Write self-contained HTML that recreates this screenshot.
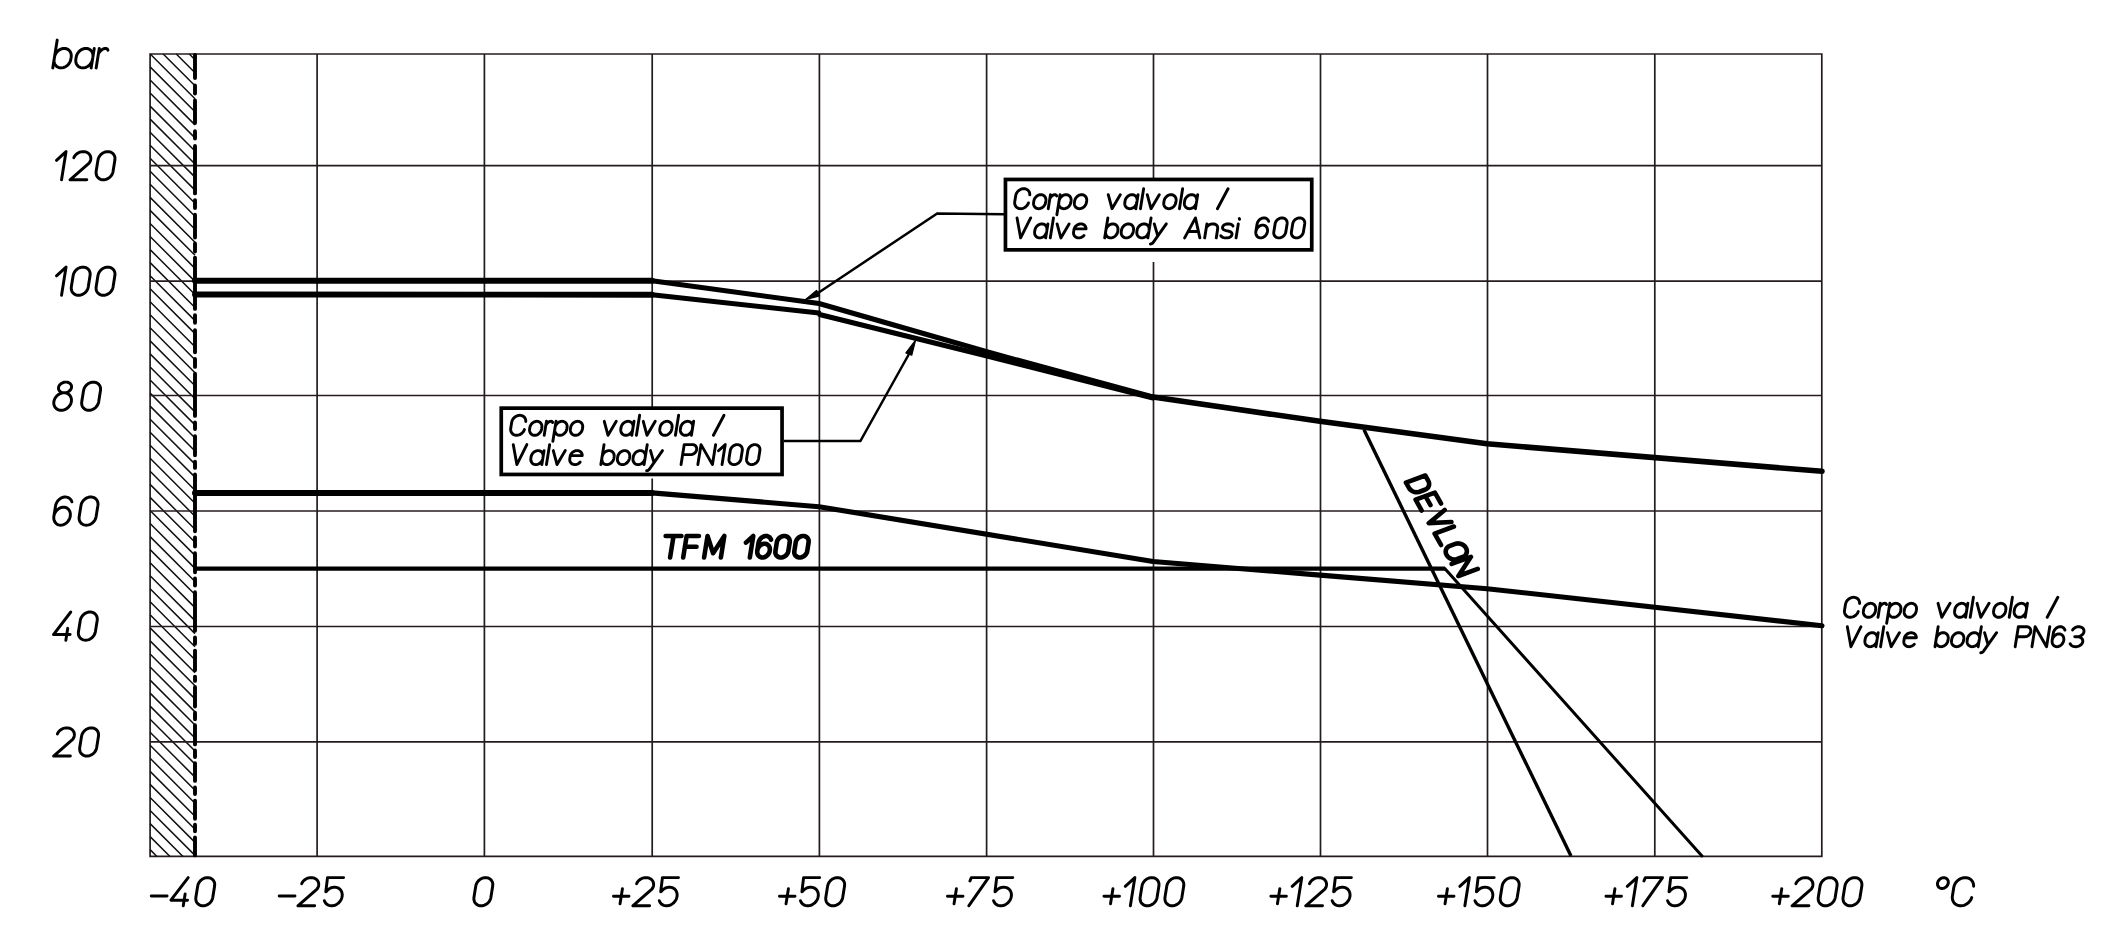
<!DOCTYPE html>
<html><head><meta charset="utf-8"><style>
html,body{margin:0;padding:0;background:#fff;overflow:hidden;}
svg{display:block;}
</style></head><body>
<svg width="2126" height="952" viewBox="0 0 2126 952">
<rect width="2126" height="952" fill="#fff"/>
<path d="M150.1 54.0H1821.8V856.45H150.1Z" fill="none" stroke="#241c1c" stroke-width="1.7"/>
<path d="M189.3 54.0L195.0 59.7M176.3 54.0L195.0 72.7M163.2 54.0L195.0 85.8M150.2 54.0L195.0 98.8M150.1 66.9L195.0 111.8M150.1 80.0L195.0 124.9M150.1 93.0L195.0 137.9M150.1 106.1L195.0 151.0M150.1 119.1L195.0 164.0M150.1 132.2L195.0 177.1M150.1 145.2L195.0 190.1M150.1 158.3L195.0 203.2M150.1 171.3L195.0 216.2M150.1 184.3L195.0 229.2M150.1 197.4L195.0 242.3M150.1 210.4L195.0 255.3M150.1 223.5L195.0 268.4M150.1 236.5L195.0 281.4M150.1 249.6L195.0 294.5M150.1 262.6L195.0 307.5M150.1 275.7L195.0 320.6M150.1 288.7L195.0 333.6M150.1 301.8L195.0 346.7M150.1 314.8L195.0 359.7M150.1 327.8L195.0 372.7M150.1 340.9L195.0 385.8M150.1 353.9L195.0 398.8M150.1 367.0L195.0 411.9M150.1 380.0L195.0 424.9M150.1 393.1L195.0 438.0M150.1 406.1L195.0 451.0M150.1 419.2L195.0 464.1M150.1 432.2L195.0 477.1M150.1 445.2L195.0 490.2M150.1 458.3L195.0 503.2M150.1 471.3L195.0 516.2M150.1 484.4L195.0 529.3M150.1 497.4L195.0 542.3M150.1 510.5L195.0 555.4M150.1 523.5L195.0 568.4M150.1 536.6L195.0 581.5M150.1 549.6L195.0 594.5M150.1 562.7L195.0 607.6M150.1 575.7L195.0 620.6M150.1 588.7L195.0 633.6M150.1 601.8L195.0 646.7M150.1 614.8L195.0 659.7M150.1 627.9L195.0 672.8M150.1 640.9L195.0 685.8M150.1 654.0L195.0 698.9M150.1 667.0L195.0 711.9M150.1 680.1L195.0 725.0M150.1 693.1L195.0 738.0M150.1 706.1L195.0 751.0M150.1 719.2L195.0 764.1M150.1 732.2L195.0 777.1M150.1 745.3L195.0 790.2M150.1 758.3L195.0 803.2M150.1 771.4L195.0 816.3M150.1 784.4L195.0 829.3M150.1 797.5L195.0 842.4M150.1 810.5L195.0 855.4M150.1 823.6L183.0 856.5M150.1 836.6L170.0 856.5M150.1 849.6L156.9 856.5" stroke="#111" stroke-width="1.5" fill="none"/>
<path d="M317.1 54.0V856.45" stroke="#241c1c" stroke-width="1.7"/>
<path d="M484.4 54.0V856.45" stroke="#241c1c" stroke-width="1.7"/>
<path d="M652.2 54.0V407M652.2 478.5V856.45" stroke="#241c1c" stroke-width="1.7"/>
<path d="M819.4 54.0V856.45" stroke="#241c1c" stroke-width="1.7"/>
<path d="M986.6 54.0V856.45" stroke="#241c1c" stroke-width="1.7"/>
<path d="M1153.5 54.0V178M1153.5 262V856.45" stroke="#241c1c" stroke-width="1.7"/>
<path d="M1320.5 54.0V856.45" stroke="#241c1c" stroke-width="1.7"/>
<path d="M1487.5 54.0V856.45" stroke="#241c1c" stroke-width="1.7"/>
<path d="M1654.8 54.0V856.45" stroke="#241c1c" stroke-width="1.7"/>
<path d="M150.1 165.6H1821.8" stroke="#241c1c" stroke-width="1.7"/>
<path d="M150.1 281.1H1821.8" stroke="#241c1c" stroke-width="1.7"/>
<path d="M150.1 395.5H1821.8" stroke="#241c1c" stroke-width="1.7"/>
<path d="M150.1 511.0H1821.8" stroke="#241c1c" stroke-width="1.7"/>
<path d="M150.1 626.5H1821.8" stroke="#241c1c" stroke-width="1.7"/>
<path d="M150.1 741.85H1821.8" stroke="#241c1c" stroke-width="1.7"/>
<path d="M195.0 54.9V78.1M195.0 85.5V93.6M195.0 100.5V123.0M195.0 131.3V138.5M195.0 145.9V193.4M195.0 200.1V208.1M195.0 214.8V237.5M195.0 243.5V251.5M195.0 257.6V308.9M195.0 315.1V322.8M195.0 330.3V352.2M195.0 358.9V366.9M195.0 373.8V415.9M195.0 422.4V429.1M195.0 436.1V455.2M195.0 461.8V467.9M195.0 474.4V531.3M195.0 537.4V546.6M195.0 553.2V572.3M195.0 578.4V585.5M195.0 592.2V630.8M195.0 637.4V643.9M195.0 650.6V670.2M195.0 676.6V680.9M195.0 687.0V706.6M195.0 712.7V719.2M195.0 725.2V744.4M195.0 750.5V757.0M195.0 763.1V780.9M195.0 787.5V794.0M195.0 800.6V818.8M195.0 824.8V831.3M195.0 837.4V855.4" stroke="#000" stroke-width="3.9" stroke-linecap="round"/>
<path d="M195 280.7L652 280.7" fill="none" stroke="#000" stroke-width="5.9" stroke-linejoin="round" stroke-linecap="round"/>
<path d="M652 280.7L819 303.5L986 351.5L1153 397" fill="none" stroke="#000" stroke-width="5.0" stroke-linejoin="round" stroke-linecap="round"/>
<path d="M1153 397L1320 421.3L1487 443.8L1822 471.3" fill="none" stroke="#000" stroke-width="5.6" stroke-linejoin="round" stroke-linecap="round"/>
<path d="M195 294.5L652 294.7" fill="none" stroke="#000" stroke-width="5.9" stroke-linejoin="round" stroke-linecap="round"/>
<path d="M652 294.7L819 313L819.5 314.5L986 355.7L1153 398" fill="none" stroke="#000" stroke-width="5.0" stroke-linejoin="round" stroke-linecap="round"/>
<path d="M195 493.1L652 492.9" fill="none" stroke="#000" stroke-width="6.0" stroke-linejoin="round" stroke-linecap="round"/>
<path d="M652 492.9L819 506.7L1153 561.5L1320 575.1L1487 588.7L1822 625.8" fill="none" stroke="#000" stroke-width="5.1" stroke-linejoin="round" stroke-linecap="round"/>
<path d="M195 568.7H1445" fill="none" stroke="#000" stroke-width="4.2"/>
<path d="M1445 568.7L1702 856" fill="none" stroke="#000" stroke-width="3.0" stroke-linecap="round"/>
<path d="M1364 429.7L1571 856" fill="none" stroke="#000" stroke-width="3.4"/>
<path d="M1004 214.3L937.2 213.4L818 293" fill="none" stroke="#000" stroke-width="2.5"/>
<path d="M805.4 299.6L816.5 290.4L819.6 295.8Z" fill="#000" stroke="#000" stroke-width="1.2" stroke-linejoin="round"/>
<path d="M784 441H860.4L909 354" fill="none" stroke="#000" stroke-width="2.5"/>
<path d="M915.6 340.1L905.9 352.9L911.8 355.2Z" fill="#000" stroke="#000" stroke-width="1.2" stroke-linejoin="round"/>
<rect x="501.25" y="408.15" width="280.8" height="66.3" fill="#fff" stroke="#000" stroke-width="3.7"/>
<rect x="1005.45" y="179.45" width="306.3" height="70.4" fill="#fff" stroke="#000" stroke-width="3.7"/>
<g fill="none" stroke="#000" stroke-linecap="round" stroke-linejoin="round">
<path d="M151.28 895.93L167.07 895.93M188.19 877.60L170.90 900.16L187.54 900.16M185.15 893.96L183.25 905.80M197.69 886.06L197.94 884.96L198.33 883.87L198.85 882.82L199.50 881.83L200.26 880.91L201.13 880.08L202.08 879.35L203.09 878.73L204.17 878.24L205.27 877.89L206.39 877.67L207.51 877.60L208.60 877.67L209.65 877.89L210.64 878.24L211.55 878.73L212.38 879.35L213.09 880.08L213.69 880.91L214.16 881.83L214.49 882.82L214.67 883.87L214.72 884.96L214.61 886.06L212.81 897.34L212.56 898.44L212.17 899.53L211.65 900.58L211.00 901.57L210.24 902.49L209.37 903.32L208.42 904.05L207.41 904.67L206.33 905.16L205.23 905.51L204.11 905.73L202.99 905.80L201.90 905.73L200.85 905.51L199.86 905.16L198.95 904.67L198.12 904.05L197.41 903.32L196.81 902.49L196.34 901.57L196.01 900.58L195.83 899.53L195.78 898.44L195.89 897.34L197.69 886.06" stroke-width="2.95"/>
<path d="M279.18 895.93L294.97 895.93M301.71 883.59L302.23 882.58L302.88 881.63L303.66 880.75L304.55 879.96L305.53 879.26L306.59 878.67L307.71 878.20L308.87 877.86L310.04 877.66L311.21 877.60L312.36 877.68L313.47 877.89L314.51 878.25L315.47 878.72L316.33 879.33L317.08 880.03L317.70 880.84L318.18 881.73L318.51 882.69L318.69 883.69L318.71 884.73L318.58 885.78L318.29 886.83L317.86 887.85L317.28 888.83L297.90 905.80L314.68 905.80M343.58 877.60L327.51 877.60L325.82 891.70L326.33 891.43L327.19 890.45L328.16 889.58L329.20 888.82L330.32 888.20L331.48 887.72L332.67 887.39L333.86 887.22L335.05 887.20L336.20 887.34L337.29 887.64L338.32 888.09L339.25 888.69L340.08 889.42L340.79 890.27L341.37 891.22L341.80 892.27L342.09 893.39L342.22 894.56L342.20 895.76L342.02 896.98L341.69 898.19L341.21 899.37L340.59 900.50L339.84 901.56L338.98 902.54L338.02 903.41L336.97 904.16L335.86 904.79L334.70 905.27L333.51 905.60L332.31 905.77L331.13 905.79L329.98 905.64L328.88 905.34L327.86 904.89L326.92 904.30L326.09 903.57L325.39 902.72L324.81 901.76L324.37 900.72" stroke-width="2.95"/>
<path d="M475.78 886.06L476.03 884.96L476.42 883.87L476.95 882.82L477.59 881.83L478.36 880.91L479.22 880.08L480.17 879.35L481.19 878.73L482.26 878.24L483.36 877.89L484.48 877.67L485.60 877.60L486.69 877.67L487.74 877.89L488.73 878.24L489.65 878.73L490.47 879.35L491.18 880.08L491.78 880.91L492.25 881.83L492.58 882.82L492.77 883.87L492.81 884.96L492.70 886.06L490.90 897.34L490.65 898.44L490.26 899.53L489.74 900.58L489.09 901.57L488.33 902.49L487.46 903.32L486.52 904.05L485.50 904.67L484.43 905.16L483.32 905.51L482.20 905.73L481.09 905.80L479.99 905.73L478.94 905.51L477.95 905.16L477.04 904.67L476.22 904.05L475.50 903.32L474.90 902.49L474.44 901.57L474.11 900.58L473.92 899.53L473.87 898.44L473.98 897.34L475.78 886.06" stroke-width="2.95"/>
<path d="M613.48 896.21L628.99 896.21M622.43 888.74L620.03 903.68M636.62 883.59L637.14 882.58L637.79 881.63L638.57 880.75L639.46 879.96L640.44 879.26L641.50 878.67L642.62 878.20L643.78 877.86L644.95 877.66L646.12 877.60L647.27 877.68L648.38 877.89L649.42 878.25L650.38 878.72L651.24 879.33L651.99 880.03L652.61 880.84L653.09 881.73L653.42 882.69L653.60 883.69L653.62 884.73L653.49 885.78L653.20 886.83L652.77 887.85L652.19 888.83L632.81 905.80L649.59 905.80M678.49 877.60L662.42 877.60L660.73 891.70L661.24 891.43L662.10 890.45L663.07 889.58L664.11 888.82L665.23 888.20L666.39 887.72L667.58 887.39L668.77 887.22L669.96 887.20L671.11 887.34L672.20 887.64L673.23 888.09L674.16 888.69L674.99 889.42L675.70 890.27L676.28 891.22L676.71 892.27L677.00 893.39L677.13 894.56L677.11 895.76L676.93 896.98L676.60 898.19L676.12 899.37L675.50 900.50L674.75 901.56L673.89 902.54L672.93 903.41L671.88 904.16L670.77 904.79L669.61 905.27L668.42 905.60L667.22 905.77L666.04 905.79L664.89 905.64L663.79 905.34L662.77 904.89L661.83 904.30L661.00 903.57L660.29 902.72L659.72 901.76L659.28 900.72" stroke-width="2.95"/>
<path d="M779.48 896.21L794.99 896.21M788.43 888.74L786.03 903.68M819.68 877.60L803.60 877.60L801.91 891.70L802.42 891.43L803.29 890.45L804.25 889.58L805.30 888.82L806.41 888.20L807.57 887.72L808.76 887.39L809.96 887.22L811.14 887.20L812.29 887.34L813.39 887.64L814.41 888.09L815.34 888.69L816.17 889.42L816.88 890.27L817.46 891.22L817.90 892.27L818.18 893.39L818.32 894.56L818.29 895.76L818.11 896.98L817.78 898.19L817.30 899.37L816.68 900.50L815.94 901.56L815.08 902.54L814.11 903.41L813.07 904.16L811.95 904.79L810.79 905.27L809.60 905.60L808.40 905.77L807.22 905.79L806.07 905.64L804.98 905.34L803.95 904.89L803.02 904.30L802.19 903.57L801.48 902.72L800.90 901.76L800.46 900.72M827.63 886.06L827.88 884.96L828.27 883.87L828.79 882.82L829.44 881.83L830.20 880.91L831.06 880.08L832.01 879.35L833.03 878.73L834.10 878.24L835.21 877.89L836.33 877.67L837.44 877.60L838.54 877.67L839.59 877.89L840.58 878.24L841.49 878.73L842.31 879.35L843.03 880.08L843.63 880.91L844.09 881.83L844.42 882.82L844.61 883.87L844.65 884.96L844.55 886.06L842.74 897.34L842.50 898.44L842.11 899.53L841.58 900.58L840.93 901.57L840.17 902.49L839.31 903.32L838.36 904.05L837.34 904.67L836.27 905.16L835.17 905.51L834.05 905.73L832.93 905.80L831.84 905.73L830.79 905.51L829.80 905.16L828.88 904.67L828.06 904.05L827.35 903.32L826.75 902.49L826.28 901.57L825.95 900.58L825.76 899.53L825.72 898.44L825.82 897.34L827.63 886.06" stroke-width="2.95"/>
<path d="M947.48 896.21L962.99 896.21M956.43 888.74L954.03 903.68M969.93 880.98L971.32 877.60L988.52 877.60L968.78 905.80M1012.77 877.60L996.70 877.60L995.01 891.70L995.52 891.43L996.38 890.45L997.35 889.58L998.39 888.82L999.51 888.20L1000.67 887.72L1001.86 887.39L1003.06 887.22L1004.24 887.20L1005.39 887.34L1006.48 887.64L1007.51 888.09L1008.44 888.69L1009.27 889.42L1009.98 890.27L1010.56 891.22L1011.00 892.27L1011.28 893.39L1011.42 894.56L1011.39 895.76L1011.21 896.98L1010.88 898.19L1010.40 899.37L1009.78 900.50L1009.04 901.56L1008.17 902.54L1007.21 903.41L1006.16 904.16L1005.05 904.79L1003.89 905.27L1002.70 905.60L1001.50 905.77L1000.32 905.79L999.17 905.64L998.07 905.34L997.05 904.89L996.12 904.30L995.29 903.57L994.58 902.72L994.00 901.76L993.56 900.72" stroke-width="2.95"/>
<path d="M1103.97 896.21L1119.48 896.21M1112.93 888.74L1110.53 903.68M1125.29 886.34L1134.87 877.60L1130.36 905.80M1141.98 886.06L1142.23 884.96L1142.62 883.87L1143.14 882.82L1143.79 881.83L1144.55 880.91L1145.41 880.08L1146.36 879.35L1147.38 878.73L1148.45 878.24L1149.56 877.89L1150.68 877.67L1151.79 877.60L1152.88 877.67L1153.93 877.89L1154.93 878.24L1155.84 878.73L1156.66 879.35L1157.38 880.08L1157.97 880.91L1158.44 881.83L1158.77 882.82L1158.96 883.87L1159.00 884.96L1158.90 886.06L1157.09 897.34L1156.84 898.44L1156.45 899.53L1155.93 900.58L1155.28 901.57L1154.52 902.49L1153.66 903.32L1152.71 904.05L1151.69 904.67L1150.62 905.16L1149.51 905.51L1148.39 905.73L1147.28 905.80L1146.19 905.73L1145.14 905.51L1144.14 905.16L1143.23 904.67L1142.41 904.05L1141.69 903.32L1141.10 902.49L1140.63 901.57L1140.30 900.58L1140.11 899.53L1140.07 898.44L1140.17 897.34L1141.98 886.06M1166.79 886.06L1167.04 884.96L1167.43 883.87L1167.96 882.82L1168.60 881.83L1169.37 880.91L1170.23 880.08L1171.18 879.35L1172.20 878.73L1173.27 878.24L1174.37 877.89L1175.49 877.67L1176.61 877.60L1177.70 877.67L1178.75 877.89L1179.74 878.24L1180.66 878.73L1181.48 879.35L1182.19 880.08L1182.79 880.91L1183.26 881.83L1183.59 882.82L1183.78 883.87L1183.82 884.96L1183.71 886.06L1181.91 897.34L1181.66 898.44L1181.27 899.53L1180.75 900.58L1180.10 901.57L1179.34 902.49L1178.47 903.32L1177.52 904.05L1176.51 904.67L1175.44 905.16L1174.33 905.51L1173.21 905.73L1172.09 905.80L1171.00 905.73L1169.95 905.51L1168.96 905.16L1168.05 904.67L1167.22 904.05L1166.51 903.32L1165.91 902.49L1165.45 901.57L1165.11 900.58L1164.93 899.53L1164.88 898.44L1164.99 897.34L1166.79 886.06" stroke-width="2.95"/>
<path d="M1270.88 896.21L1286.38 896.21M1279.83 888.74L1277.43 903.68M1292.19 886.34L1301.77 877.60L1297.26 905.80M1309.53 883.59L1310.05 882.58L1310.70 881.63L1311.48 880.75L1312.37 879.96L1313.35 879.26L1314.41 878.67L1315.53 878.20L1316.69 877.86L1317.86 877.66L1319.03 877.60L1320.18 877.68L1321.29 877.89L1322.33 878.25L1323.29 878.72L1324.15 879.33L1324.90 880.03L1325.52 880.84L1326.00 881.73L1326.33 882.69L1326.51 883.69L1326.53 884.73L1326.40 885.78L1326.11 886.83L1325.68 887.85L1325.10 888.83L1305.72 905.80L1322.50 905.80M1351.40 877.60L1335.33 877.60L1333.64 891.70L1334.15 891.43L1335.01 890.45L1335.98 889.58L1337.02 888.82L1338.14 888.20L1339.30 887.72L1340.49 887.39L1341.68 887.22L1342.87 887.20L1344.02 887.34L1345.11 887.64L1346.14 888.09L1347.07 888.69L1347.90 889.42L1348.61 890.27L1349.19 891.22L1349.62 892.27L1349.91 893.39L1350.04 894.56L1350.02 895.76L1349.84 896.98L1349.51 898.19L1349.03 899.37L1348.41 900.50L1347.66 901.56L1346.80 902.54L1345.84 903.41L1344.79 904.16L1343.68 904.79L1342.52 905.27L1341.33 905.60L1340.13 905.77L1338.95 905.79L1337.80 905.64L1336.70 905.34L1335.68 904.89L1334.74 904.30L1333.91 903.57L1333.20 902.72L1332.63 901.76L1332.19 900.72" stroke-width="2.95"/>
<path d="M1438.47 896.21L1453.98 896.21M1447.43 888.74L1445.03 903.68M1459.79 886.34L1469.37 877.60L1464.86 905.80M1494.19 877.60L1478.11 877.60L1476.42 891.70L1476.93 891.43L1477.80 890.45L1478.76 889.58L1479.81 888.82L1480.92 888.20L1482.08 887.72L1483.27 887.39L1484.47 887.22L1485.65 887.20L1486.80 887.34L1487.90 887.64L1488.92 888.09L1489.85 888.69L1490.68 889.42L1491.39 890.27L1491.97 891.22L1492.41 892.27L1492.69 893.39L1492.83 894.56L1492.80 895.76L1492.62 896.98L1492.29 898.19L1491.81 899.37L1491.19 900.50L1490.45 901.56L1489.59 902.54L1488.62 903.41L1487.58 904.16L1486.46 904.79L1485.30 905.27L1484.11 905.60L1482.91 905.77L1481.73 905.79L1480.58 905.64L1479.49 905.34L1478.46 904.89L1477.53 904.30L1476.70 903.57L1475.99 902.72L1475.41 901.76L1474.97 900.72M1502.14 886.06L1502.39 884.96L1502.78 883.87L1503.30 882.82L1503.95 881.83L1504.71 880.91L1505.57 880.08L1506.52 879.35L1507.54 878.73L1508.61 878.24L1509.72 877.89L1510.84 877.67L1511.95 877.60L1513.05 877.67L1514.10 877.89L1515.09 878.24L1516.00 878.73L1516.82 879.35L1517.54 880.08L1518.14 880.91L1518.60 881.83L1518.93 882.82L1519.12 883.87L1519.16 884.96L1519.06 886.06L1517.25 897.34L1517.01 898.44L1516.62 899.53L1516.09 900.58L1515.44 901.57L1514.68 902.49L1513.82 903.32L1512.87 904.05L1511.85 904.67L1510.78 905.16L1509.68 905.51L1508.56 905.73L1507.44 905.80L1506.35 905.73L1505.30 905.51L1504.31 905.16L1503.39 904.67L1502.57 904.05L1501.86 903.32L1501.26 902.49L1500.79 901.57L1500.46 900.58L1500.27 899.53L1500.23 898.44L1500.33 897.34L1502.14 886.06" stroke-width="2.95"/>
<path d="M1605.97 896.21L1621.48 896.21M1614.93 888.74L1612.53 903.68M1627.29 886.34L1636.87 877.60L1632.36 905.80M1643.94 880.98L1645.33 877.60L1662.53 877.60L1642.79 905.80M1686.78 877.60L1670.71 877.60L1669.02 891.70L1669.53 891.43L1670.39 890.45L1671.36 889.58L1672.40 888.82L1673.52 888.20L1674.68 887.72L1675.87 887.39L1677.07 887.22L1678.25 887.20L1679.40 887.34L1680.49 887.64L1681.52 888.09L1682.45 888.69L1683.28 889.42L1683.99 890.27L1684.57 891.22L1685.01 892.27L1685.29 893.39L1685.43 894.56L1685.40 895.76L1685.22 896.98L1684.89 898.19L1684.41 899.37L1683.79 900.50L1683.05 901.56L1682.18 902.54L1681.22 903.41L1680.17 904.16L1679.06 904.79L1677.90 905.27L1676.71 905.60L1675.51 905.77L1674.33 905.79L1673.18 905.64L1672.08 905.34L1671.06 904.89L1670.13 904.30L1669.30 903.57L1668.59 902.72L1668.01 901.76L1667.57 900.72" stroke-width="2.95"/>
<path d="M1772.77 896.21L1788.28 896.21M1781.73 888.74L1779.33 903.68M1795.92 883.59L1796.44 882.58L1797.09 881.63L1797.87 880.75L1798.76 879.96L1799.74 879.26L1800.80 878.67L1801.92 878.20L1803.08 877.86L1804.25 877.66L1805.42 877.60L1806.57 877.68L1807.68 877.89L1808.72 878.25L1809.68 878.72L1810.54 879.33L1811.29 880.03L1811.91 880.84L1812.39 881.73L1812.72 882.69L1812.90 883.69L1812.92 884.73L1812.79 885.78L1812.50 886.83L1812.07 887.85L1811.49 888.83L1792.11 905.80L1808.89 905.80M1820.08 886.06L1820.33 884.96L1820.72 883.87L1821.25 882.82L1821.89 881.83L1822.66 880.91L1823.52 880.08L1824.47 879.35L1825.49 878.73L1826.56 878.24L1827.66 877.89L1828.78 877.67L1829.90 877.60L1830.99 877.67L1832.04 877.89L1833.03 878.24L1833.95 878.73L1834.77 879.35L1835.48 880.08L1836.08 880.91L1836.55 881.83L1836.88 882.82L1837.07 883.87L1837.11 884.96L1837.00 886.06L1835.20 897.34L1834.95 898.44L1834.56 899.53L1834.04 900.58L1833.39 901.57L1832.63 902.49L1831.76 903.32L1830.81 904.05L1829.80 904.67L1828.73 905.16L1827.62 905.51L1826.50 905.73L1825.38 905.80L1824.29 905.73L1823.24 905.51L1822.25 905.16L1821.34 904.67L1820.51 904.05L1819.80 903.32L1819.20 902.49L1818.74 901.57L1818.40 900.58L1818.22 899.53L1818.17 898.44L1818.28 897.34L1820.08 886.06M1844.90 886.06L1845.15 884.96L1845.54 883.87L1846.06 882.82L1846.71 881.83L1847.47 880.91L1848.33 880.08L1849.28 879.35L1850.30 878.73L1851.37 878.24L1852.48 877.89L1853.60 877.67L1854.71 877.60L1855.81 877.67L1856.86 877.89L1857.85 878.24L1858.76 878.73L1859.58 879.35L1860.30 880.08L1860.90 880.91L1861.36 881.83L1861.69 882.82L1861.88 883.87L1861.92 884.96L1861.82 886.06L1860.01 897.34L1859.77 898.44L1859.38 899.53L1858.85 900.58L1858.20 901.57L1857.44 902.49L1856.58 903.32L1855.63 904.05L1854.61 904.67L1853.54 905.16L1852.44 905.51L1851.32 905.73L1850.20 905.80L1849.11 905.73L1848.06 905.51L1847.07 905.16L1846.15 904.67L1845.33 904.05L1844.62 903.32L1844.02 902.49L1843.55 901.57L1843.22 900.58L1843.03 899.53L1842.99 898.44L1843.09 897.34L1844.90 886.06" stroke-width="2.95"/>
<path d="M1948.26 883.10L1948.10 883.80L1947.85 884.49L1947.52 885.15L1947.11 885.78L1946.63 886.36L1946.08 886.89L1945.48 887.35L1944.84 887.74L1944.16 888.05L1943.46 888.27L1942.75 888.41L1942.04 888.46L1941.35 888.41L1940.68 888.27L1940.06 888.05L1939.48 887.74L1938.96 887.35L1938.50 886.89L1938.13 886.36L1937.83 885.78L1937.62 885.15L1937.50 884.49L1937.47 883.80L1937.54 883.10L1937.70 882.40L1937.95 881.71L1938.28 881.05L1938.69 880.42L1939.17 879.84L1939.72 879.31L1940.32 878.85L1940.96 878.46L1941.64 878.15L1942.34 877.92L1943.05 877.79L1943.76 877.74L1944.45 877.79L1945.11 877.92L1945.74 878.15L1946.32 878.46L1946.84 878.85L1947.29 879.31L1947.67 879.84L1947.97 880.42L1948.18 881.05L1948.30 881.71L1948.32 882.40L1948.26 883.10M1973.62 886.27L1973.58 885.00L1973.37 883.77L1973.00 882.60L1972.46 881.52L1971.77 880.54L1970.94 879.68L1969.98 878.95L1968.92 878.37L1967.76 877.95L1966.53 877.69L1965.26 877.60L1963.95 877.68L1962.64 877.93L1961.35 878.34L1960.09 878.91L1958.90 879.62L1957.79 880.47L1956.78 881.45L1955.88 882.52L1955.12 883.68L1954.51 884.91L1954.05 886.18L1953.76 887.47L1952.41 895.93L1952.29 897.26L1952.34 898.56L1952.58 899.82L1953.00 901.00L1953.58 902.09L1954.32 903.07L1955.21 903.92L1956.22 904.63L1957.35 905.18L1958.56 905.56L1959.84 905.76L1961.17 905.79L1962.52 905.64L1963.86 905.31L1965.17 904.81L1966.43 904.15L1967.62 903.34L1968.70 902.39L1969.67 901.33L1970.51 900.17L1971.20 898.94L1971.72 897.64" stroke-width="2.95"/>
<path d="M56.48 160.34L66.05 151.60L61.54 179.80M73.81 157.59L74.33 156.58L74.98 155.63L75.76 154.75L76.65 153.96L77.63 153.26L78.69 152.67L79.81 152.20L80.97 151.86L82.14 151.66L83.31 151.60L84.46 151.68L85.57 151.89L86.61 152.25L87.57 152.72L88.43 153.33L89.18 154.03L89.80 154.84L90.28 155.73L90.61 156.69L90.79 157.69L90.81 158.73L90.68 159.78L90.39 160.83L89.96 161.85L89.38 162.83L70.00 179.80L86.78 179.80M97.97 160.06L98.22 158.96L98.61 157.87L99.14 156.82L99.78 155.83L100.55 154.91L101.41 154.08L102.36 153.35L103.38 152.73L104.45 152.24L105.55 151.89L106.67 151.67L107.79 151.60L108.88 151.67L109.93 151.89L110.92 152.24L111.84 152.73L112.66 153.35L113.37 154.08L113.97 154.91L114.44 155.83L114.77 156.82L114.96 157.87L115.00 158.96L114.89 160.06L113.09 171.34L112.84 172.44L112.45 173.53L111.93 174.58L111.28 175.57L110.52 176.49L109.65 177.32L108.71 178.05L107.69 178.67L106.62 179.16L105.51 179.51L104.39 179.73L103.28 179.80L102.18 179.73L101.13 179.51L100.14 179.16L99.23 178.67L98.41 178.05L97.69 177.32L97.09 176.49L96.63 175.57L96.30 174.58L96.11 173.53L96.07 172.44L96.17 171.34L97.97 160.06" stroke-width="2.95"/>
<path d="M56.48 275.84L66.05 267.10L61.54 295.30M73.16 275.56L73.41 274.46L73.80 273.37L74.32 272.32L74.97 271.33L75.73 270.41L76.59 269.58L77.54 268.85L78.56 268.23L79.63 267.74L80.74 267.39L81.86 267.17L82.97 267.10L84.06 267.17L85.12 267.39L86.11 267.74L87.02 268.23L87.84 268.85L88.56 269.58L89.15 270.41L89.62 271.33L89.95 272.32L90.14 273.37L90.18 274.46L90.08 275.56L88.27 286.84L88.02 287.94L87.63 289.03L87.11 290.08L86.46 291.07L85.70 291.99L84.84 292.82L83.89 293.55L82.87 294.17L81.80 294.66L80.70 295.01L79.58 295.23L78.46 295.30L77.37 295.23L76.32 295.01L75.33 294.66L74.41 294.17L73.59 293.55L72.87 292.82L72.28 291.99L71.81 291.07L71.48 290.08L71.29 289.03L71.25 287.94L71.35 286.84L73.16 275.56M97.97 275.56L98.22 274.46L98.61 273.37L99.14 272.32L99.78 271.33L100.55 270.41L101.41 269.58L102.36 268.85L103.38 268.23L104.45 267.74L105.55 267.39L106.67 267.17L107.79 267.10L108.88 267.17L109.93 267.39L110.92 267.74L111.84 268.23L112.66 268.85L113.37 269.58L113.97 270.41L114.44 271.33L114.77 272.32L114.96 273.37L115.00 274.46L114.89 275.56L113.09 286.84L112.84 287.94L112.45 289.03L111.93 290.08L111.28 291.07L110.52 291.99L109.65 292.82L108.71 293.55L107.69 294.17L106.62 294.66L105.51 295.01L104.39 295.23L103.28 295.30L102.18 295.23L101.13 295.01L100.14 294.66L99.23 294.17L98.41 293.55L97.69 292.82L97.09 291.99L96.63 291.07L96.30 290.08L96.11 289.03L96.07 287.94L96.17 286.84L97.97 275.56" stroke-width="2.95"/>
<path d="M71.51 387.46L71.34 388.16L71.06 388.84L70.69 389.51L70.21 390.14L69.65 390.72L69.00 391.25L68.29 391.71L67.52 392.10L66.71 392.41L65.87 392.63L65.02 392.77L64.16 392.82L63.33 392.77L62.52 392.63L61.75 392.41L61.04 392.10L60.39 391.71L59.83 391.25L59.35 390.72L58.98 390.14L58.70 389.51L58.53 388.84L58.48 388.16L58.54 387.46L58.70 386.76L58.98 386.07L59.36 385.41L59.83 384.78L60.40 384.20L61.04 383.67L61.75 383.21L62.52 382.82L63.33 382.51L64.17 382.28L65.03 382.15L65.88 382.10L66.72 382.15L67.53 382.28L68.30 382.51L69.01 382.82L69.65 383.21L70.21 383.67L70.69 384.20L71.07 384.78L71.34 385.41L71.51 386.07L71.56 386.76L71.51 387.46M71.37 401.56L71.11 402.70L70.71 403.82L70.17 404.90L69.50 405.93L68.71 406.88L67.82 407.74L66.84 408.49L65.78 409.13L64.68 409.63L63.54 410.00L62.38 410.23L61.23 410.30L60.10 410.23L59.01 410.00L57.99 409.63L57.04 409.13L56.19 408.49L55.45 407.74L54.84 406.88L54.35 405.93L54.01 404.90L53.82 403.82L53.77 402.70L53.88 401.56L54.14 400.42L54.54 399.30L55.08 398.21L55.75 397.19L56.54 396.24L57.43 395.38L58.41 394.62L59.47 393.99L60.57 393.48L61.71 393.11L62.87 392.89L64.02 392.82L65.15 392.89L66.24 393.11L67.26 393.48L68.21 393.99L69.06 394.62L69.80 395.38L70.41 396.24L70.89 397.19L71.24 398.21L71.43 399.30L71.47 400.42L71.37 401.56M83.56 390.56L83.81 389.46L84.20 388.37L84.72 387.32L85.37 386.33L86.13 385.41L87.00 384.58L87.94 383.85L88.96 383.23L90.03 382.74L91.14 382.39L92.26 382.17L93.37 382.10L94.47 382.17L95.52 382.39L96.51 382.74L97.42 383.23L98.24 383.85L98.96 384.58L99.56 385.41L100.02 386.33L100.35 387.32L100.54 388.37L100.58 389.46L100.48 390.56L98.68 401.84L98.43 402.94L98.04 404.03L97.51 405.08L96.87 406.07L96.10 406.99L95.24 407.82L94.29 408.55L93.27 409.17L92.20 409.66L91.10 410.01L89.98 410.23L88.86 410.30L87.77 410.23L86.72 410.01L85.73 409.66L84.81 409.17L83.99 408.55L83.28 407.82L82.68 406.99L82.21 406.07L81.88 405.08L81.69 404.03L81.65 402.94L81.76 401.84L83.56 390.56" stroke-width="2.95"/>
<path d="M71.86 501.79L71.44 500.77L70.89 499.85L70.21 499.03L69.43 498.34L68.54 497.78L67.57 497.37L66.54 497.11L65.45 497.00L64.34 497.06L63.23 497.27L62.12 497.63L61.04 498.15L60.01 498.80L59.05 499.58L58.17 500.47L57.39 501.46L56.73 502.53L56.19 503.66L55.78 504.83L55.52 506.02L53.89 516.18L53.89 516.18L53.77 517.35L53.80 518.51L53.96 519.63L54.27 520.69L54.70 521.67L55.27 522.56L55.95 523.34L56.73 523.99L57.61 524.51L58.56 524.89L59.57 525.12L60.63 525.20L61.71 525.12L62.79 524.89L63.87 524.51L64.91 523.99L65.90 523.34L66.83 522.56L67.68 521.67L68.43 520.69L69.07 519.63L69.60 518.51L69.99 517.35L70.25 516.18L70.37 515.00L70.34 513.84L70.18 512.72L69.88 511.66L69.44 510.68L68.88 509.80L68.20 509.02L67.41 508.36L66.54 507.84L65.58 507.46L64.57 507.23L63.52 507.15L62.44 507.23L61.35 507.46L60.28 507.84L59.23 508.36L58.24 509.02L57.31 509.80L56.46 510.68L55.71 511.66L55.07 512.72L54.55 513.84L54.15 515.00L53.89 516.18M80.99 505.46L81.24 504.36L81.63 503.27L82.15 502.22L82.80 501.23L83.56 500.31L84.42 499.48L85.37 498.75L86.39 498.13L87.46 497.64L88.57 497.29L89.69 497.07L90.80 497.00L91.89 497.07L92.95 497.29L93.94 497.64L94.85 498.13L95.67 498.75L96.39 499.48L96.98 500.31L97.45 501.23L97.78 502.22L97.97 503.27L98.01 504.36L97.91 505.46L96.10 516.74L95.85 517.84L95.46 518.93L94.94 519.98L94.29 520.97L93.53 521.89L92.67 522.72L91.72 523.45L90.70 524.07L89.63 524.56L88.53 524.91L87.41 525.13L86.29 525.20L85.20 525.13L84.15 524.91L83.16 524.56L82.24 524.07L81.42 523.45L80.70 522.72L80.11 521.89L79.64 520.97L79.31 519.98L79.12 518.93L79.08 517.84L79.18 516.74L80.99 505.46" stroke-width="2.95"/>
<path d="M70.76 612.00L53.48 634.56L70.11 634.56M67.72 628.36L65.83 640.20M80.27 620.46L80.51 619.36L80.90 618.27L81.43 617.22L82.08 616.23L82.84 615.31L83.70 614.48L84.65 613.75L85.67 613.13L86.74 612.64L87.84 612.29L88.96 612.07L90.08 612.00L91.17 612.07L92.22 612.29L93.21 612.64L94.13 613.13L94.95 613.75L95.66 614.48L96.26 615.31L96.73 616.23L97.06 617.22L97.25 618.27L97.29 619.36L97.19 620.46L95.38 631.74L95.13 632.84L94.74 633.93L94.22 634.98L93.57 635.97L92.81 636.89L91.95 637.72L91.00 638.45L89.98 639.07L88.91 639.56L87.80 639.91L86.68 640.13L85.57 640.20L84.47 640.13L83.42 639.91L82.43 639.56L81.52 639.07L80.70 638.45L79.98 637.72L79.38 636.89L78.92 635.97L78.59 634.98L78.40 633.93L78.36 632.84L78.46 631.74L80.27 620.46" stroke-width="2.95"/>
<path d="M57.39 733.84L57.91 732.83L58.56 731.88L59.34 731.00L60.22 730.21L61.21 729.51L62.27 728.92L63.38 728.45L64.54 728.11L65.72 727.91L66.89 727.85L68.04 727.93L69.14 728.14L70.19 728.50L71.15 728.97L72.01 729.58L72.75 730.28L73.37 731.09L73.85 731.98L74.19 732.94L74.37 733.94L74.39 734.98L74.26 736.03L73.97 737.08L73.53 738.10L72.95 739.08L53.58 756.05L70.35 756.05M81.55 736.31L81.80 735.21L82.19 734.12L82.71 733.07L83.36 732.08L84.12 731.16L84.98 730.33L85.93 729.60L86.95 728.98L88.02 728.49L89.13 728.14L90.25 727.92L91.36 727.85L92.46 727.92L93.51 728.14L94.50 728.49L95.41 728.98L96.23 729.60L96.95 730.33L97.55 731.16L98.01 732.08L98.34 733.07L98.53 734.12L98.57 735.21L98.47 736.31L96.66 747.59L96.42 748.69L96.03 749.78L95.50 750.83L94.85 751.82L94.09 752.74L93.23 753.57L92.28 754.30L91.26 754.92L90.19 755.41L89.09 755.76L87.97 755.98L86.85 756.05L85.76 755.98L84.71 755.76L83.72 755.41L82.80 754.92L81.98 754.30L81.27 753.57L80.67 752.74L80.20 751.82L79.87 750.83L79.68 749.78L79.64 748.69L79.74 747.59L81.55 736.31" stroke-width="2.95"/>
<path d="M54.49 57.20L54.74 56.05L55.13 54.93L55.66 53.85L56.31 52.82L57.06 51.87L57.92 51.00L58.86 50.25L59.87 49.61L60.93 49.11L62.02 48.74L63.13 48.51L64.23 48.44L65.31 48.51L66.34 48.74L67.31 49.11L68.21 49.61L69.02 50.25L69.72 51.00L70.30 51.87L70.75 52.82L71.07 53.85L71.25 54.93L71.28 56.05L71.17 57.20L70.86 59.14L70.60 60.29L70.21 61.41L69.69 62.49L69.04 63.52L68.28 64.47L67.42 65.34L66.48 66.09L65.47 66.73L64.41 67.23L63.32 67.60L62.22 67.83L61.11 67.90L60.04 67.83L59.00 67.60L58.03 67.23L57.13 66.73L56.33 66.09L55.63 65.34L55.05 64.47L54.59 63.52L54.27 62.49L54.10 61.41L54.06 60.29L54.18 59.14L54.49 57.20M57.22 40.10L52.77 67.90M76.17 57.20L76.43 56.05L76.82 54.93L77.34 53.85L77.99 52.82L78.75 51.87L79.60 51.00L80.55 50.25L81.55 49.61L82.61 49.11L83.71 48.74L84.81 48.51L85.91 48.44L86.99 48.51L88.02 48.74L89.00 49.11L89.89 49.61L90.70 50.25L91.40 51.00L91.98 51.87L92.43 52.82L92.75 53.85L92.93 54.93L92.96 56.05L92.85 57.20L92.54 59.14L92.29 60.29L91.89 61.41L91.37 62.49L90.72 63.52L89.96 64.47L89.11 65.34L88.17 66.09L87.16 66.73L86.10 67.23L85.01 67.60L83.90 67.83L82.80 67.90L81.72 67.83L80.69 67.60L79.71 67.23L78.82 66.73L78.01 66.09L77.31 65.34L76.73 64.47L76.28 63.52L75.96 62.49L75.78 61.41L75.75 60.29L75.86 59.14L76.17 57.20M94.25 48.44L91.14 67.90M99.26 48.44L96.14 67.90M98.37 54.00L98.37 54.00L99.16 52.64L100.00 51.49L100.90 50.53L101.83 49.76L102.78 49.17L103.74 48.76L104.70 48.52L105.65 48.44L105.65 48.44L106.42 48.54L107.04 48.86L107.53 49.38L107.89 50.11" stroke-width="2.95"/>
<path d="M525.78 421.45L525.75 420.54L525.61 419.67L525.34 418.85L524.96 418.08L524.47 417.38L523.88 416.77L523.20 416.26L522.44 415.85L521.62 415.55L520.75 415.36L519.85 415.30L518.92 415.36L517.99 415.53L517.08 415.82L516.19 416.23L515.34 416.74L514.55 417.34L513.84 418.03L513.20 418.79L512.66 419.61L512.23 420.48L511.90 421.38L511.70 422.30L510.74 428.30L510.65 429.24L510.69 430.17L510.86 431.06L511.16 431.90L511.57 432.67L512.10 433.37L512.72 433.97L513.44 434.47L514.24 434.86L515.10 435.13L516.01 435.27L516.95 435.29L517.91 435.18L518.86 434.95L519.79 434.60L520.68 434.13L521.52 433.55L522.29 432.88L522.98 432.13L523.58 431.31L524.06 430.43L524.44 429.52M529.85 427.60L530.03 426.78L530.31 425.97L530.69 425.19L531.16 424.45L531.70 423.76L532.32 423.15L533.00 422.60L533.72 422.14L534.48 421.78L535.27 421.51L536.07 421.35L536.86 421.30L537.63 421.35L538.38 421.51L539.08 421.78L539.72 422.14L540.30 422.60L540.80 423.15L541.22 423.76L541.55 424.45L541.78 425.19L541.91 425.97L541.93 426.78L541.85 427.60L541.63 429.00L541.44 429.82L541.16 430.63L540.78 431.41L540.32 432.15L539.77 432.84L539.15 433.45L538.48 434.00L537.75 434.46L536.99 434.82L536.20 435.09L535.41 435.25L534.62 435.30L533.84 435.25L533.10 435.09L532.40 434.82L531.75 434.46L531.17 434.00L530.67 433.45L530.25 432.84L529.92 432.15L529.70 431.41L529.57 430.63L529.54 429.82L529.63 429.00L529.85 427.60M546.46 421.30L544.22 435.30M545.82 425.30L545.82 425.30L546.38 424.32L546.99 423.49L547.64 422.80L548.31 422.25L548.99 421.83L549.68 421.53L550.37 421.36L551.06 421.30L551.06 421.30L551.61 421.38L552.06 421.60L552.41 421.98L552.67 422.50M555.05 427.60L555.23 426.78L555.51 425.97L555.89 425.19L556.36 424.45L556.90 423.76L557.52 423.15L558.20 422.60L558.92 422.14L559.68 421.78L560.47 421.51L561.27 421.35L562.06 421.30L562.83 421.35L563.58 421.51L564.28 421.78L564.92 422.14L565.50 422.60L566.00 423.15L566.42 423.76L566.75 424.45L566.98 425.19L567.11 425.97L567.13 426.78L567.05 427.60L566.83 429.00L566.64 429.82L566.36 430.63L565.98 431.41L565.52 432.15L564.97 432.84L564.35 433.45L563.68 434.00L562.95 434.46L562.19 434.82L561.40 435.09L560.61 435.25L559.82 435.30L559.04 435.25L558.30 435.09L557.60 434.82L556.95 434.46L556.37 434.00L555.87 433.45L555.45 432.84L555.12 432.15L554.90 431.41L554.77 430.63L554.74 429.82L554.83 429.00L555.05 427.60M556.06 421.30L552.86 441.30M570.65 427.60L570.83 426.78L571.11 425.97L571.49 425.19L571.96 424.45L572.50 423.76L573.12 423.15L573.80 422.60L574.52 422.14L575.28 421.78L576.07 421.51L576.87 421.35L577.66 421.30L578.43 421.35L579.18 421.51L579.88 421.78L580.52 422.14L581.10 422.60L581.60 423.15L582.02 423.76L582.35 424.45L582.58 425.19L582.71 425.97L582.73 426.78L582.65 427.60L582.43 429.00L582.24 429.82L581.96 430.63L581.58 431.41L581.12 432.15L580.57 432.84L579.95 433.45L579.28 434.00L578.55 434.46L577.79 434.82L577.00 435.09L576.21 435.25L575.42 435.30L574.64 435.25L573.90 435.09L573.20 434.82L572.55 434.46L571.97 434.00L571.47 433.45L571.05 432.84L570.72 432.15L570.50 431.41L570.37 430.63L570.34 429.82L570.43 429.00L570.65 427.60M604.26 421.30L608.02 435.30L616.26 421.30M621.05 427.60L621.23 426.78L621.51 425.97L621.89 425.19L622.36 424.45L622.90 423.76L623.52 423.15L624.20 422.60L624.92 422.14L625.68 421.78L626.47 421.51L627.27 421.35L628.06 421.30L628.83 421.35L629.58 421.51L630.28 421.78L630.92 422.14L631.50 422.60L632.00 423.15L632.42 423.76L632.75 424.45L632.98 425.19L633.11 425.97L633.13 426.78L633.05 427.60L632.83 429.00L632.64 429.82L632.36 430.63L631.98 431.41L631.52 432.15L630.97 432.84L630.35 433.45L629.68 434.00L628.95 434.46L628.19 434.82L627.40 435.09L626.61 435.25L625.82 435.30L625.04 435.25L624.30 435.09L623.60 434.82L622.95 434.46L622.37 434.00L621.87 433.45L621.45 432.84L621.12 432.15L620.90 431.41L620.77 430.63L620.74 429.82L620.83 429.00L621.05 427.60M634.06 421.30L631.82 435.30M639.62 415.30L636.42 435.30M643.26 421.30L647.02 435.30L655.26 421.30M660.05 427.60L660.23 426.78L660.51 425.97L660.89 425.19L661.36 424.45L661.90 423.76L662.52 423.15L663.20 422.60L663.92 422.14L664.68 421.78L665.47 421.51L666.27 421.35L667.06 421.30L667.83 421.35L668.58 421.51L669.28 421.78L669.92 422.14L670.50 422.60L671.00 423.15L671.42 423.76L671.75 424.45L671.98 425.19L672.11 425.97L672.13 426.78L672.05 427.60L671.83 429.00L671.64 429.82L671.36 430.63L670.98 431.41L670.52 432.15L669.97 432.84L669.35 433.45L668.68 434.00L667.95 434.46L667.19 434.82L666.40 435.09L665.61 435.25L664.82 435.30L664.04 435.25L663.30 435.09L662.60 434.82L661.95 434.46L661.37 434.00L660.87 433.45L660.45 432.84L660.12 432.15L659.90 431.41L659.77 430.63L659.74 429.82L659.83 429.00L660.05 427.60M678.62 415.30L675.42 435.30M680.65 427.60L680.83 426.78L681.11 425.97L681.49 425.19L681.96 424.45L682.50 423.76L683.12 423.15L683.80 422.60L684.52 422.14L685.28 421.78L686.07 421.51L686.87 421.35L687.66 421.30L688.43 421.35L689.18 421.51L689.88 421.78L690.52 422.14L691.10 422.60L691.60 423.15L692.02 423.76L692.35 424.45L692.58 425.19L692.71 425.97L692.73 426.78L692.65 427.60L692.43 429.00L692.24 429.82L691.96 430.63L691.58 431.41L691.12 432.15L690.57 432.84L689.95 433.45L689.28 434.00L688.55 434.46L687.79 434.82L687.00 435.09L686.21 435.25L685.42 435.30L684.64 435.25L683.90 435.09L683.20 434.82L682.55 434.46L681.97 434.00L681.47 433.45L681.05 432.84L680.72 432.15L680.50 431.41L680.37 430.63L680.34 429.82L680.43 429.00L680.65 427.60M693.66 421.30L691.42 435.30M713.42 435.30L724.02 415.30" stroke-width="2.9"/>
<path d="M513.25 444.60L516.85 464.60L526.85 444.60M531.08 456.90L531.26 456.08L531.55 455.27L531.92 454.49L532.39 453.75L532.94 453.06L533.55 452.45L534.23 451.90L534.95 451.44L535.72 451.08L536.50 450.81L537.30 450.65L538.09 450.60L538.86 450.65L539.61 450.81L540.31 451.08L540.95 451.44L541.53 451.90L542.04 452.45L542.46 453.06L542.78 453.75L543.01 454.49L543.14 455.27L543.16 456.08L543.08 456.90L542.86 458.30L542.68 459.12L542.39 459.93L542.02 460.71L541.55 461.45L541.00 462.14L540.39 462.75L539.71 463.30L538.99 463.76L538.22 464.12L537.44 464.39L536.64 464.55L535.85 464.60L535.08 464.55L534.33 464.39L533.63 464.12L532.99 463.76L532.41 463.30L531.90 462.75L531.48 462.14L531.16 461.45L530.93 460.71L530.80 459.93L530.78 459.12L530.86 458.30L531.08 456.90M544.09 450.60L541.85 464.60M549.65 444.60L546.45 464.60M553.29 450.60L557.05 464.60L565.29 450.60M570.49 455.60L582.19 455.60L582.23 455.59L582.19 454.82L582.03 454.07L581.76 453.37L581.39 452.73L580.93 452.15L580.37 451.65L579.74 451.24L579.04 450.93L578.28 450.72L577.49 450.61L576.67 450.61L575.84 450.72L575.02 450.94L574.22 451.25L573.45 451.66L572.74 452.16L572.09 452.74L571.52 453.39L571.03 454.09L570.63 454.84L570.34 455.61L570.16 456.40L569.78 458.80L569.71 459.57L569.75 460.33L569.89 461.06L570.14 461.75L570.49 462.38L570.93 462.96L571.46 463.46L572.06 463.88L572.73 464.20L573.46 464.44L574.22 464.57L575.02 464.60L575.82 464.53L576.63 464.35L577.42 464.08L578.18 463.71L578.90 463.26L579.56 462.73L580.16 462.13M602.08 456.90L602.26 456.08L602.55 455.27L602.92 454.49L603.39 453.75L603.94 453.06L604.55 452.45L605.23 451.90L605.95 451.44L606.72 451.08L607.50 450.81L608.30 450.65L609.09 450.60L609.86 450.65L610.61 450.81L611.31 451.08L611.95 451.44L612.53 451.90L613.04 452.45L613.46 453.06L613.78 453.75L614.01 454.49L614.14 455.27L614.16 456.08L614.08 456.90L613.86 458.30L613.68 459.12L613.39 459.93L613.02 460.71L612.55 461.45L612.00 462.14L611.39 462.75L610.71 463.30L609.99 463.76L609.22 464.12L608.44 464.39L607.64 464.55L606.85 464.60L606.08 464.55L605.33 464.39L604.63 464.12L603.99 463.76L603.41 463.30L602.90 462.75L602.48 462.14L602.16 461.45L601.93 460.71L601.80 459.93L601.78 459.12L601.86 458.30L602.08 456.90M604.05 444.60L600.85 464.60M617.68 456.90L617.86 456.08L618.15 455.27L618.52 454.49L618.99 453.75L619.54 453.06L620.15 452.45L620.83 451.90L621.55 451.44L622.32 451.08L623.10 450.81L623.90 450.65L624.69 450.60L625.46 450.65L626.21 450.81L626.91 451.08L627.55 451.44L628.13 451.90L628.64 452.45L629.06 453.06L629.38 453.75L629.61 454.49L629.74 455.27L629.76 456.08L629.68 456.90L629.46 458.30L629.28 459.12L628.99 459.93L628.62 460.71L628.15 461.45L627.60 462.14L626.99 462.75L626.31 463.30L625.59 463.76L624.82 464.12L624.04 464.39L623.24 464.55L622.45 464.60L621.68 464.55L620.93 464.39L620.23 464.12L619.59 463.76L619.01 463.30L618.50 462.75L618.08 462.14L617.76 461.45L617.53 460.71L617.40 459.93L617.38 459.12L617.46 458.30L617.68 456.90M633.28 456.90L633.46 456.08L633.75 455.27L634.12 454.49L634.59 453.75L635.14 453.06L635.75 452.45L636.43 451.90L637.15 451.44L637.92 451.08L638.70 450.81L639.50 450.65L640.29 450.60L641.06 450.65L641.81 450.81L642.51 451.08L643.15 451.44L643.73 451.90L644.24 452.45L644.66 453.06L644.98 453.75L645.21 454.49L645.34 455.27L645.36 456.08L645.28 456.90L645.06 458.30L644.88 459.12L644.59 459.93L644.22 460.71L643.75 461.45L643.20 462.14L642.59 462.75L641.91 463.30L641.19 463.76L640.42 464.12L639.64 464.39L638.84 464.55L638.05 464.60L637.28 464.55L636.53 464.39L635.83 464.12L635.19 463.76L634.61 463.30L634.10 462.75L633.68 462.14L633.36 461.45L633.13 460.71L633.00 459.93L632.98 459.12L633.06 458.30L633.28 456.90M647.25 444.60L644.05 464.60M650.49 450.60L653.90 462.40M662.49 450.60L650.34 467.80L650.34 467.80L649.80 468.63L649.26 469.33L648.70 469.89L648.10 470.30L647.43 470.58L646.67 470.70M681.05 464.60L684.25 444.60L692.45 444.60L692.45 444.60L693.10 444.64L693.72 444.77L694.30 444.98L694.84 445.27L695.33 445.63L695.75 446.06L696.10 446.56L696.38 447.10L696.58 447.69L696.69 448.31L696.71 448.95L696.65 449.60L696.50 450.25L696.27 450.89L695.96 451.51L695.58 452.10L695.13 452.64L694.62 453.14L694.06 453.57L693.46 453.93L692.82 454.22L692.17 454.43L691.51 454.56L690.85 454.60L682.65 454.60M697.85 464.60L701.05 444.60L712.45 464.60L715.65 444.60M718.46 450.80L725.25 444.60L722.05 464.60M730.29 450.60L730.47 449.82L730.74 449.05L731.11 448.30L731.57 447.60L732.11 446.95L732.73 446.36L733.40 445.84L734.12 445.40L734.88 445.06L735.66 444.80L736.46 444.65L737.25 444.60L738.02 444.65L738.77 444.80L739.47 445.06L740.12 445.40L740.70 445.84L741.21 446.36L741.63 446.95L741.97 447.60L742.20 448.30L742.33 449.05L742.36 449.82L742.29 450.60L741.01 458.60L740.83 459.38L740.56 460.15L740.19 460.90L739.73 461.60L739.19 462.25L738.57 462.84L737.90 463.36L737.18 463.80L736.42 464.14L735.64 464.40L734.84 464.55L734.05 464.60L733.28 464.55L732.53 464.40L731.83 464.14L731.18 463.80L730.60 463.36L730.09 462.84L729.67 462.25L729.33 461.60L729.10 460.90L728.97 460.15L728.94 459.38L729.01 458.60L730.29 450.60M747.89 450.60L748.07 449.82L748.34 449.05L748.71 448.30L749.17 447.60L749.71 446.95L750.33 446.36L751.00 445.84L751.72 445.40L752.48 445.06L753.26 444.80L754.06 444.65L754.85 444.60L755.62 444.65L756.37 444.80L757.07 445.06L757.72 445.40L758.30 445.84L758.81 446.36L759.23 446.95L759.57 447.60L759.80 448.30L759.93 449.05L759.96 449.82L759.89 450.60L758.61 458.60L758.43 459.38L758.16 460.15L757.79 460.90L757.33 461.60L756.79 462.25L756.17 462.84L755.50 463.36L754.78 463.80L754.02 464.14L753.24 464.40L752.44 464.55L751.65 464.60L750.88 464.55L750.13 464.40L749.43 464.14L748.78 463.80L748.20 463.36L747.69 462.84L747.27 462.25L746.93 461.60L746.70 460.90L746.57 460.15L746.54 459.38L746.61 458.60L747.89 450.60" stroke-width="2.9"/>
<path d="M1029.78 194.85L1029.75 193.94L1029.61 193.07L1029.34 192.25L1028.96 191.48L1028.47 190.78L1027.88 190.17L1027.20 189.66L1026.44 189.25L1025.62 188.95L1024.75 188.76L1023.85 188.70L1022.92 188.76L1021.99 188.93L1021.08 189.22L1020.19 189.63L1019.34 190.14L1018.55 190.74L1017.84 191.43L1017.20 192.19L1016.66 193.01L1016.23 193.88L1015.90 194.78L1015.70 195.70L1014.74 201.70L1014.65 202.64L1014.69 203.57L1014.86 204.46L1015.16 205.30L1015.57 206.07L1016.10 206.77L1016.72 207.37L1017.44 207.87L1018.24 208.26L1019.10 208.53L1020.01 208.67L1020.95 208.69L1021.91 208.58L1022.86 208.35L1023.79 208.00L1024.68 207.53L1025.52 206.95L1026.29 206.28L1026.98 205.53L1027.58 204.71L1028.06 203.83L1028.44 202.92M1033.85 201.00L1034.03 200.18L1034.31 199.37L1034.69 198.59L1035.16 197.85L1035.70 197.16L1036.32 196.55L1037.00 196.00L1037.72 195.54L1038.48 195.18L1039.27 194.91L1040.07 194.75L1040.86 194.70L1041.63 194.75L1042.38 194.91L1043.08 195.18L1043.72 195.54L1044.30 196.00L1044.80 196.55L1045.22 197.16L1045.55 197.85L1045.78 198.59L1045.91 199.37L1045.93 200.18L1045.85 201.00L1045.63 202.40L1045.44 203.22L1045.16 204.03L1044.78 204.81L1044.32 205.55L1043.77 206.24L1043.15 206.85L1042.48 207.40L1041.75 207.86L1040.99 208.22L1040.20 208.49L1039.41 208.65L1038.62 208.70L1037.84 208.65L1037.10 208.49L1036.40 208.22L1035.75 207.86L1035.17 207.40L1034.67 206.85L1034.25 206.24L1033.92 205.55L1033.70 204.81L1033.57 204.03L1033.54 203.22L1033.63 202.40L1033.85 201.00M1050.46 194.70L1048.22 208.70M1049.82 198.70L1049.82 198.70L1050.38 197.72L1050.99 196.89L1051.64 196.20L1052.31 195.65L1052.99 195.23L1053.68 194.93L1054.37 194.76L1055.06 194.70L1055.06 194.70L1055.61 194.77L1056.06 195.00L1056.41 195.38L1056.67 195.90M1059.05 201.00L1059.23 200.18L1059.51 199.37L1059.89 198.59L1060.36 197.85L1060.90 197.16L1061.52 196.55L1062.20 196.00L1062.92 195.54L1063.68 195.18L1064.47 194.91L1065.27 194.75L1066.06 194.70L1066.83 194.75L1067.58 194.91L1068.28 195.18L1068.92 195.54L1069.50 196.00L1070.00 196.55L1070.42 197.16L1070.75 197.85L1070.98 198.59L1071.11 199.37L1071.13 200.18L1071.05 201.00L1070.83 202.40L1070.64 203.22L1070.36 204.03L1069.98 204.81L1069.52 205.55L1068.97 206.24L1068.35 206.85L1067.68 207.40L1066.95 207.86L1066.19 208.22L1065.40 208.49L1064.61 208.65L1063.82 208.70L1063.04 208.65L1062.30 208.49L1061.60 208.22L1060.95 207.86L1060.37 207.40L1059.87 206.85L1059.45 206.24L1059.12 205.55L1058.90 204.81L1058.77 204.03L1058.74 203.22L1058.83 202.40L1059.05 201.00M1060.06 194.70L1056.86 214.70M1074.65 201.00L1074.83 200.18L1075.11 199.37L1075.49 198.59L1075.96 197.85L1076.50 197.16L1077.12 196.55L1077.80 196.00L1078.52 195.54L1079.28 195.18L1080.07 194.91L1080.87 194.75L1081.66 194.70L1082.43 194.75L1083.18 194.91L1083.88 195.18L1084.52 195.54L1085.10 196.00L1085.60 196.55L1086.02 197.16L1086.35 197.85L1086.58 198.59L1086.71 199.37L1086.73 200.18L1086.65 201.00L1086.43 202.40L1086.24 203.22L1085.96 204.03L1085.58 204.81L1085.12 205.55L1084.57 206.24L1083.95 206.85L1083.28 207.40L1082.55 207.86L1081.79 208.22L1081.00 208.49L1080.21 208.65L1079.42 208.70L1078.64 208.65L1077.90 208.49L1077.20 208.22L1076.55 207.86L1075.97 207.40L1075.47 206.85L1075.05 206.24L1074.72 205.55L1074.50 204.81L1074.37 204.03L1074.34 203.22L1074.43 202.40L1074.65 201.00M1108.26 194.70L1112.02 208.70L1120.26 194.70M1125.05 201.00L1125.23 200.18L1125.51 199.37L1125.89 198.59L1126.36 197.85L1126.90 197.16L1127.52 196.55L1128.20 196.00L1128.92 195.54L1129.68 195.18L1130.47 194.91L1131.27 194.75L1132.06 194.70L1132.83 194.75L1133.58 194.91L1134.28 195.18L1134.92 195.54L1135.50 196.00L1136.00 196.55L1136.42 197.16L1136.75 197.85L1136.98 198.59L1137.11 199.37L1137.13 200.18L1137.05 201.00L1136.83 202.40L1136.64 203.22L1136.36 204.03L1135.98 204.81L1135.52 205.55L1134.97 206.24L1134.35 206.85L1133.68 207.40L1132.95 207.86L1132.19 208.22L1131.40 208.49L1130.61 208.65L1129.82 208.70L1129.04 208.65L1128.30 208.49L1127.60 208.22L1126.95 207.86L1126.37 207.40L1125.87 206.85L1125.45 206.24L1125.12 205.55L1124.90 204.81L1124.77 204.03L1124.74 203.22L1124.83 202.40L1125.05 201.00M1138.06 194.70L1135.82 208.70M1143.62 188.70L1140.42 208.70M1147.26 194.70L1151.02 208.70L1159.26 194.70M1164.05 201.00L1164.23 200.18L1164.51 199.37L1164.89 198.59L1165.36 197.85L1165.90 197.16L1166.52 196.55L1167.20 196.00L1167.92 195.54L1168.68 195.18L1169.47 194.91L1170.27 194.75L1171.06 194.70L1171.83 194.75L1172.58 194.91L1173.28 195.18L1173.92 195.54L1174.50 196.00L1175.00 196.55L1175.42 197.16L1175.75 197.85L1175.98 198.59L1176.11 199.37L1176.13 200.18L1176.05 201.00L1175.83 202.40L1175.64 203.22L1175.36 204.03L1174.98 204.81L1174.52 205.55L1173.97 206.24L1173.35 206.85L1172.68 207.40L1171.95 207.86L1171.19 208.22L1170.40 208.49L1169.61 208.65L1168.82 208.70L1168.04 208.65L1167.30 208.49L1166.60 208.22L1165.95 207.86L1165.37 207.40L1164.87 206.85L1164.45 206.24L1164.12 205.55L1163.90 204.81L1163.77 204.03L1163.74 203.22L1163.83 202.40L1164.05 201.00M1182.62 188.70L1179.42 208.70M1184.65 201.00L1184.83 200.18L1185.11 199.37L1185.49 198.59L1185.96 197.85L1186.50 197.16L1187.12 196.55L1187.80 196.00L1188.52 195.54L1189.28 195.18L1190.07 194.91L1190.87 194.75L1191.66 194.70L1192.43 194.75L1193.18 194.91L1193.88 195.18L1194.52 195.54L1195.10 196.00L1195.60 196.55L1196.02 197.16L1196.35 197.85L1196.58 198.59L1196.71 199.37L1196.73 200.18L1196.65 201.00L1196.43 202.40L1196.24 203.22L1195.96 204.03L1195.58 204.81L1195.12 205.55L1194.57 206.24L1193.95 206.85L1193.28 207.40L1192.55 207.86L1191.79 208.22L1191.00 208.49L1190.21 208.65L1189.42 208.70L1188.64 208.65L1187.90 208.49L1187.20 208.22L1186.55 207.86L1185.97 207.40L1185.47 206.85L1185.05 206.24L1184.72 205.55L1184.50 204.81L1184.37 204.03L1184.34 203.22L1184.43 202.40L1184.65 201.00M1197.66 194.70L1195.42 208.70M1217.42 208.70L1228.02 188.70" stroke-width="2.9"/>
<path d="M1017.05 217.90L1020.65 237.90L1030.65 217.90M1034.88 230.20L1035.06 229.38L1035.35 228.57L1035.72 227.79L1036.19 227.05L1036.74 226.36L1037.35 225.75L1038.03 225.20L1038.75 224.74L1039.52 224.38L1040.30 224.11L1041.10 223.95L1041.89 223.90L1042.66 223.95L1043.41 224.11L1044.11 224.38L1044.75 224.74L1045.33 225.20L1045.84 225.75L1046.26 226.36L1046.58 227.05L1046.81 227.79L1046.94 228.57L1046.96 229.38L1046.88 230.20L1046.66 231.60L1046.48 232.42L1046.19 233.23L1045.82 234.01L1045.35 234.75L1044.80 235.44L1044.19 236.05L1043.51 236.60L1042.79 237.06L1042.02 237.42L1041.24 237.69L1040.44 237.85L1039.65 237.90L1038.88 237.85L1038.13 237.69L1037.43 237.42L1036.79 237.06L1036.21 236.60L1035.70 236.05L1035.28 235.44L1034.96 234.75L1034.73 234.01L1034.60 233.23L1034.58 232.42L1034.66 231.60L1034.88 230.20M1047.89 223.90L1045.65 237.90M1053.45 217.90L1050.25 237.90M1057.09 223.90L1060.85 237.90L1069.09 223.90M1074.29 228.90L1085.99 228.90L1086.03 228.89L1085.99 228.12L1085.83 227.37L1085.56 226.67L1085.19 226.03L1084.73 225.45L1084.17 224.95L1083.54 224.54L1082.84 224.23L1082.08 224.02L1081.29 223.91L1080.47 223.91L1079.64 224.02L1078.82 224.24L1078.02 224.55L1077.25 224.96L1076.54 225.46L1075.89 226.04L1075.32 226.69L1074.83 227.39L1074.43 228.14L1074.14 228.91L1073.96 229.70L1073.58 232.10L1073.51 232.87L1073.55 233.63L1073.69 234.36L1073.94 235.05L1074.29 235.68L1074.73 236.26L1075.26 236.76L1075.86 237.18L1076.53 237.50L1077.26 237.74L1078.02 237.87L1078.82 237.90L1079.62 237.83L1080.43 237.65L1081.22 237.38L1081.98 237.01L1082.70 236.56L1083.36 236.03L1083.96 235.43M1105.88 230.20L1106.06 229.38L1106.35 228.57L1106.72 227.79L1107.19 227.05L1107.74 226.36L1108.35 225.75L1109.03 225.20L1109.75 224.74L1110.52 224.38L1111.30 224.11L1112.10 223.95L1112.89 223.90L1113.66 223.95L1114.41 224.11L1115.11 224.38L1115.75 224.74L1116.33 225.20L1116.84 225.75L1117.26 226.36L1117.58 227.05L1117.81 227.79L1117.94 228.57L1117.96 229.38L1117.88 230.20L1117.66 231.60L1117.48 232.42L1117.19 233.23L1116.82 234.01L1116.35 234.75L1115.80 235.44L1115.19 236.05L1114.51 236.60L1113.79 237.06L1113.02 237.42L1112.24 237.69L1111.44 237.85L1110.65 237.90L1109.88 237.85L1109.13 237.69L1108.43 237.42L1107.79 237.06L1107.21 236.60L1106.70 236.05L1106.28 235.44L1105.96 234.75L1105.73 234.01L1105.60 233.23L1105.58 232.42L1105.66 231.60L1105.88 230.20M1107.85 217.90L1104.65 237.90M1121.48 230.20L1121.66 229.38L1121.95 228.57L1122.32 227.79L1122.79 227.05L1123.34 226.36L1123.95 225.75L1124.63 225.20L1125.35 224.74L1126.12 224.38L1126.90 224.11L1127.70 223.95L1128.49 223.90L1129.26 223.95L1130.01 224.11L1130.71 224.38L1131.35 224.74L1131.93 225.20L1132.44 225.75L1132.86 226.36L1133.18 227.05L1133.41 227.79L1133.54 228.57L1133.56 229.38L1133.48 230.20L1133.26 231.60L1133.08 232.42L1132.79 233.23L1132.42 234.01L1131.95 234.75L1131.40 235.44L1130.79 236.05L1130.11 236.60L1129.39 237.06L1128.62 237.42L1127.84 237.69L1127.04 237.85L1126.25 237.90L1125.48 237.85L1124.73 237.69L1124.03 237.42L1123.39 237.06L1122.81 236.60L1122.30 236.05L1121.88 235.44L1121.56 234.75L1121.33 234.01L1121.20 233.23L1121.18 232.42L1121.26 231.60L1121.48 230.20M1137.08 230.20L1137.26 229.38L1137.55 228.57L1137.92 227.79L1138.39 227.05L1138.94 226.36L1139.55 225.75L1140.23 225.20L1140.95 224.74L1141.72 224.38L1142.50 224.11L1143.30 223.95L1144.09 223.90L1144.86 223.95L1145.61 224.11L1146.31 224.38L1146.95 224.74L1147.53 225.20L1148.04 225.75L1148.46 226.36L1148.78 227.05L1149.01 227.79L1149.14 228.57L1149.16 229.38L1149.08 230.20L1148.86 231.60L1148.68 232.42L1148.39 233.23L1148.02 234.01L1147.55 234.75L1147.00 235.44L1146.39 236.05L1145.71 236.60L1144.99 237.06L1144.22 237.42L1143.44 237.69L1142.64 237.85L1141.85 237.90L1141.08 237.85L1140.33 237.69L1139.63 237.42L1138.99 237.06L1138.41 236.60L1137.90 236.05L1137.48 235.44L1137.16 234.75L1136.93 234.01L1136.80 233.23L1136.78 232.42L1136.86 231.60L1137.08 230.20M1151.05 217.90L1147.85 237.90M1154.29 223.90L1157.70 235.70M1166.29 223.90L1154.14 241.10L1154.14 241.10L1153.60 241.93L1153.06 242.63L1152.50 243.19L1151.90 243.60L1151.23 243.88L1150.47 244.00M1184.65 237.90L1195.45 217.90L1199.85 237.90M1188.07 231.50L1198.47 231.50M1206.89 223.90L1204.65 237.90M1206.25 227.90L1206.25 227.90L1206.90 226.92L1207.62 226.09L1208.39 225.40L1209.21 224.85L1210.08 224.43L1210.99 224.13L1211.93 223.96L1212.89 223.90L1212.89 223.90L1214.09 223.99L1215.14 224.27L1216.03 224.71L1216.74 225.33L1217.26 226.10L1217.59 227.02L1217.72 228.09L1217.63 229.30L1216.25 237.90M1232.94 226.10L1232.49 225.38L1231.90 224.82L1231.18 224.40L1230.37 224.11L1229.46 223.95L1228.49 223.90L1228.49 223.90L1226.96 224.00L1225.60 224.29L1224.45 224.78L1223.53 225.44L1222.89 226.28L1222.55 227.30L1222.55 227.30L1222.58 228.36L1223.03 229.17L1223.80 229.78L1224.83 230.23L1226.05 230.59L1227.37 230.90L1227.37 230.90L1228.81 231.22L1230.03 231.61L1230.98 232.10L1231.64 232.72L1231.99 233.51L1231.99 234.50L1231.99 234.50L1231.63 235.59L1230.95 236.45L1230.00 237.10L1228.84 237.55L1227.51 237.81L1226.05 237.90L1226.05 237.90L1224.81 237.83L1223.71 237.64L1222.74 237.33L1221.93 236.89L1221.28 236.35L1220.80 235.70M1238.29 223.90L1236.05 237.90M1239.25 218.50L1239.53 219.30M1268.62 221.30L1268.32 220.57L1267.93 219.92L1267.45 219.34L1266.89 218.85L1266.26 218.45L1265.57 218.16L1264.84 217.98L1264.07 217.90L1263.29 217.94L1262.49 218.09L1261.71 218.35L1260.94 218.71L1260.21 219.18L1259.53 219.73L1258.91 220.36L1258.36 221.06L1257.88 221.82L1257.50 222.62L1257.21 223.45L1257.03 224.30L1255.87 231.50L1255.87 231.50L1255.79 232.34L1255.81 233.16L1255.92 233.95L1256.14 234.70L1256.45 235.40L1256.85 236.03L1257.33 236.58L1257.89 237.04L1258.51 237.41L1259.18 237.68L1259.90 237.85L1260.65 237.90L1261.42 237.85L1262.19 237.68L1262.95 237.41L1263.69 237.04L1264.39 236.58L1265.05 236.03L1265.65 235.40L1266.18 234.70L1266.64 233.95L1267.01 233.16L1267.29 232.34L1267.47 231.50L1267.56 230.66L1267.54 229.84L1267.42 229.05L1267.21 228.30L1266.90 227.60L1266.50 226.97L1266.02 226.42L1265.46 225.96L1264.84 225.59L1264.16 225.32L1263.45 225.15L1262.70 225.10L1261.93 225.15L1261.16 225.32L1260.40 225.59L1259.66 225.96L1258.96 226.42L1258.30 226.97L1257.70 227.60L1257.16 228.30L1256.71 229.05L1256.34 229.84L1256.06 230.66L1255.87 231.50M1275.09 223.90L1275.27 223.12L1275.54 222.35L1275.91 221.60L1276.37 220.90L1276.91 220.25L1277.53 219.66L1278.20 219.14L1278.92 218.70L1279.68 218.36L1280.46 218.10L1281.26 217.95L1282.05 217.90L1282.82 217.95L1283.57 218.10L1284.27 218.36L1284.92 218.70L1285.50 219.14L1286.01 219.66L1286.43 220.25L1286.77 220.90L1287.00 221.60L1287.13 222.35L1287.16 223.12L1287.09 223.90L1285.81 231.90L1285.63 232.68L1285.36 233.45L1284.99 234.20L1284.53 234.90L1283.99 235.55L1283.37 236.14L1282.70 236.66L1281.98 237.10L1281.22 237.44L1280.44 237.70L1279.64 237.85L1278.85 237.90L1278.08 237.85L1277.33 237.70L1276.63 237.44L1275.98 237.10L1275.40 236.66L1274.89 236.14L1274.47 235.55L1274.13 234.90L1273.90 234.20L1273.77 233.45L1273.74 232.68L1273.81 231.90L1275.09 223.90M1292.69 223.90L1292.87 223.12L1293.14 222.35L1293.51 221.60L1293.97 220.90L1294.51 220.25L1295.13 219.66L1295.80 219.14L1296.52 218.70L1297.28 218.36L1298.06 218.10L1298.86 217.95L1299.65 217.90L1300.42 217.95L1301.17 218.10L1301.87 218.36L1302.52 218.70L1303.10 219.14L1303.61 219.66L1304.03 220.25L1304.37 220.90L1304.60 221.60L1304.73 222.35L1304.76 223.12L1304.69 223.90L1303.41 231.90L1303.23 232.68L1302.96 233.45L1302.59 234.20L1302.13 234.90L1301.59 235.55L1300.97 236.14L1300.30 236.66L1299.58 237.10L1298.82 237.44L1298.04 237.70L1297.24 237.85L1296.45 237.90L1295.68 237.85L1294.93 237.70L1294.23 237.44L1293.58 237.10L1293.00 236.66L1292.49 236.14L1292.07 235.55L1291.73 234.90L1291.50 234.20L1291.37 233.45L1291.34 232.68L1291.41 231.90L1292.69 223.90" stroke-width="2.9"/>
<path d="M1859.58 603.45L1859.55 602.54L1859.41 601.67L1859.14 600.85L1858.76 600.08L1858.27 599.38L1857.68 598.77L1857.00 598.26L1856.24 597.85L1855.42 597.55L1854.55 597.36L1853.65 597.30L1852.72 597.36L1851.79 597.53L1850.88 597.82L1849.99 598.23L1849.14 598.74L1848.35 599.34L1847.64 600.03L1847.00 600.79L1846.46 601.61L1846.03 602.48L1845.70 603.38L1845.50 604.30L1844.54 610.30L1844.45 611.24L1844.49 612.17L1844.66 613.06L1844.96 613.90L1845.37 614.67L1845.90 615.37L1846.52 615.97L1847.24 616.47L1848.04 616.86L1848.90 617.13L1849.81 617.27L1850.75 617.29L1851.71 617.18L1852.66 616.95L1853.59 616.60L1854.48 616.13L1855.32 615.55L1856.09 614.88L1856.78 614.13L1857.38 613.31L1857.86 612.43L1858.24 611.52M1863.65 609.60L1863.83 608.78L1864.11 607.97L1864.49 607.19L1864.96 606.45L1865.50 605.76L1866.12 605.15L1866.80 604.60L1867.52 604.14L1868.28 603.78L1869.07 603.51L1869.87 603.35L1870.66 603.30L1871.43 603.35L1872.18 603.51L1872.88 603.78L1873.52 604.14L1874.10 604.60L1874.60 605.15L1875.02 605.76L1875.35 606.45L1875.58 607.19L1875.71 607.97L1875.73 608.78L1875.65 609.60L1875.43 611.00L1875.24 611.82L1874.96 612.63L1874.58 613.41L1874.12 614.15L1873.57 614.84L1872.95 615.45L1872.28 616.00L1871.55 616.46L1870.79 616.82L1870.00 617.09L1869.21 617.25L1868.42 617.30L1867.64 617.25L1866.90 617.09L1866.20 616.82L1865.55 616.46L1864.97 616.00L1864.47 615.45L1864.05 614.84L1863.72 614.15L1863.50 613.41L1863.37 612.63L1863.34 611.82L1863.43 611.00L1863.65 609.60M1880.26 603.30L1878.02 617.30M1879.62 607.30L1879.62 607.30L1880.18 606.32L1880.79 605.49L1881.44 604.80L1882.11 604.25L1882.79 603.83L1883.48 603.53L1884.17 603.36L1884.86 603.30L1884.86 603.30L1885.41 603.38L1885.86 603.60L1886.21 603.97L1886.47 604.50M1888.85 609.60L1889.03 608.78L1889.31 607.97L1889.69 607.19L1890.16 606.45L1890.70 605.76L1891.32 605.15L1892.00 604.60L1892.72 604.14L1893.48 603.78L1894.27 603.51L1895.07 603.35L1895.86 603.30L1896.63 603.35L1897.38 603.51L1898.08 603.78L1898.72 604.14L1899.30 604.60L1899.80 605.15L1900.22 605.76L1900.55 606.45L1900.78 607.19L1900.91 607.97L1900.93 608.78L1900.85 609.60L1900.63 611.00L1900.44 611.82L1900.16 612.63L1899.78 613.41L1899.32 614.15L1898.77 614.84L1898.15 615.45L1897.48 616.00L1896.75 616.46L1895.99 616.82L1895.20 617.09L1894.41 617.25L1893.62 617.30L1892.84 617.25L1892.10 617.09L1891.40 616.82L1890.75 616.46L1890.17 616.00L1889.67 615.45L1889.25 614.84L1888.92 614.15L1888.70 613.41L1888.57 612.63L1888.54 611.82L1888.63 611.00L1888.85 609.60M1889.86 603.30L1886.66 623.30M1904.45 609.60L1904.63 608.78L1904.91 607.97L1905.29 607.19L1905.76 606.45L1906.30 605.76L1906.92 605.15L1907.60 604.60L1908.32 604.14L1909.08 603.78L1909.87 603.51L1910.67 603.35L1911.46 603.30L1912.23 603.35L1912.98 603.51L1913.68 603.78L1914.32 604.14L1914.90 604.60L1915.40 605.15L1915.82 605.76L1916.15 606.45L1916.38 607.19L1916.51 607.97L1916.53 608.78L1916.45 609.60L1916.23 611.00L1916.04 611.82L1915.76 612.63L1915.38 613.41L1914.92 614.15L1914.37 614.84L1913.75 615.45L1913.08 616.00L1912.35 616.46L1911.59 616.82L1910.80 617.09L1910.01 617.25L1909.22 617.30L1908.44 617.25L1907.70 617.09L1907.00 616.82L1906.35 616.46L1905.77 616.00L1905.27 615.45L1904.85 614.84L1904.52 614.15L1904.30 613.41L1904.17 612.63L1904.14 611.82L1904.23 611.00L1904.45 609.60M1938.06 603.30L1941.82 617.30L1950.06 603.30M1954.85 609.60L1955.03 608.78L1955.31 607.97L1955.69 607.19L1956.16 606.45L1956.70 605.76L1957.32 605.15L1958.00 604.60L1958.72 604.14L1959.48 603.78L1960.27 603.51L1961.07 603.35L1961.86 603.30L1962.63 603.35L1963.38 603.51L1964.08 603.78L1964.72 604.14L1965.30 604.60L1965.80 605.15L1966.22 605.76L1966.55 606.45L1966.78 607.19L1966.91 607.97L1966.93 608.78L1966.85 609.60L1966.63 611.00L1966.44 611.82L1966.16 612.63L1965.78 613.41L1965.32 614.15L1964.77 614.84L1964.15 615.45L1963.48 616.00L1962.75 616.46L1961.99 616.82L1961.20 617.09L1960.41 617.25L1959.62 617.30L1958.84 617.25L1958.10 617.09L1957.40 616.82L1956.75 616.46L1956.17 616.00L1955.67 615.45L1955.25 614.84L1954.92 614.15L1954.70 613.41L1954.57 612.63L1954.54 611.82L1954.63 611.00L1954.85 609.60M1967.86 603.30L1965.62 617.30M1973.42 597.30L1970.22 617.30M1977.06 603.30L1980.82 617.30L1989.06 603.30M1993.85 609.60L1994.03 608.78L1994.31 607.97L1994.69 607.19L1995.16 606.45L1995.70 605.76L1996.32 605.15L1997.00 604.60L1997.72 604.14L1998.48 603.78L1999.27 603.51L2000.07 603.35L2000.86 603.30L2001.63 603.35L2002.38 603.51L2003.08 603.78L2003.72 604.14L2004.30 604.60L2004.80 605.15L2005.22 605.76L2005.55 606.45L2005.78 607.19L2005.91 607.97L2005.93 608.78L2005.85 609.60L2005.63 611.00L2005.44 611.82L2005.16 612.63L2004.78 613.41L2004.32 614.15L2003.77 614.84L2003.15 615.45L2002.48 616.00L2001.75 616.46L2000.99 616.82L2000.20 617.09L1999.41 617.25L1998.62 617.30L1997.84 617.25L1997.10 617.09L1996.40 616.82L1995.75 616.46L1995.17 616.00L1994.67 615.45L1994.25 614.84L1993.92 614.15L1993.70 613.41L1993.57 612.63L1993.54 611.82L1993.63 611.00L1993.85 609.60M2012.42 597.30L2009.22 617.30M2014.45 609.60L2014.63 608.78L2014.91 607.97L2015.29 607.19L2015.76 606.45L2016.30 605.76L2016.92 605.15L2017.60 604.60L2018.32 604.14L2019.08 603.78L2019.87 603.51L2020.67 603.35L2021.46 603.30L2022.23 603.35L2022.98 603.51L2023.68 603.78L2024.32 604.14L2024.90 604.60L2025.40 605.15L2025.82 605.76L2026.15 606.45L2026.38 607.19L2026.51 607.97L2026.53 608.78L2026.45 609.60L2026.23 611.00L2026.04 611.82L2025.76 612.63L2025.38 613.41L2024.92 614.15L2024.37 614.84L2023.75 615.45L2023.08 616.00L2022.35 616.46L2021.59 616.82L2020.80 617.09L2020.01 617.25L2019.22 617.30L2018.44 617.25L2017.70 617.09L2017.00 616.82L2016.35 616.46L2015.77 616.00L2015.27 615.45L2014.85 614.84L2014.52 614.15L2014.30 613.41L2014.17 612.63L2014.14 611.82L2014.23 611.00L2014.45 609.60M2027.46 603.30L2025.22 617.30M2047.22 617.30L2057.82 597.30" stroke-width="2.9"/>
<path d="M1847.35 626.70L1850.95 646.70L1860.95 626.70M1865.18 639.00L1865.36 638.18L1865.65 637.37L1866.02 636.59L1866.49 635.85L1867.04 635.16L1867.65 634.55L1868.33 634.00L1869.05 633.54L1869.82 633.18L1870.60 632.91L1871.40 632.75L1872.19 632.70L1872.96 632.75L1873.71 632.91L1874.41 633.18L1875.05 633.54L1875.63 634.00L1876.14 634.55L1876.56 635.16L1876.88 635.85L1877.11 636.59L1877.24 637.37L1877.26 638.18L1877.18 639.00L1876.96 640.40L1876.78 641.22L1876.49 642.03L1876.12 642.81L1875.65 643.55L1875.10 644.24L1874.49 644.85L1873.81 645.40L1873.09 645.86L1872.32 646.22L1871.54 646.49L1870.74 646.65L1869.95 646.70L1869.18 646.65L1868.43 646.49L1867.73 646.22L1867.09 645.86L1866.51 645.40L1866.00 644.85L1865.58 644.24L1865.26 643.55L1865.03 642.81L1864.90 642.03L1864.88 641.22L1864.96 640.40L1865.18 639.00M1878.19 632.70L1875.95 646.70M1883.75 626.70L1880.55 646.70M1887.39 632.70L1891.15 646.70L1899.39 632.70M1904.59 637.70L1916.29 637.70L1916.33 637.69L1916.29 636.92L1916.13 636.17L1915.86 635.47L1915.49 634.83L1915.03 634.25L1914.47 633.75L1913.84 633.34L1913.14 633.03L1912.38 632.82L1911.59 632.71L1910.77 632.71L1909.94 632.82L1909.12 633.04L1908.32 633.35L1907.55 633.76L1906.84 634.26L1906.19 634.84L1905.62 635.49L1905.13 636.19L1904.73 636.94L1904.44 637.71L1904.26 638.50L1903.88 640.90L1903.81 641.67L1903.85 642.43L1903.99 643.16L1904.24 643.85L1904.59 644.48L1905.03 645.06L1905.56 645.56L1906.16 645.98L1906.83 646.30L1907.56 646.54L1908.32 646.67L1909.12 646.70L1909.92 646.63L1910.73 646.45L1911.52 646.18L1912.28 645.81L1913.00 645.36L1913.66 644.83L1914.26 644.23M1936.18 639.00L1936.36 638.18L1936.65 637.37L1937.02 636.59L1937.49 635.85L1938.04 635.16L1938.65 634.55L1939.33 634.00L1940.05 633.54L1940.82 633.18L1941.60 632.91L1942.40 632.75L1943.19 632.70L1943.96 632.75L1944.71 632.91L1945.41 633.18L1946.05 633.54L1946.63 634.00L1947.14 634.55L1947.56 635.16L1947.88 635.85L1948.11 636.59L1948.24 637.37L1948.26 638.18L1948.18 639.00L1947.96 640.40L1947.78 641.22L1947.49 642.03L1947.12 642.81L1946.65 643.55L1946.10 644.24L1945.49 644.85L1944.81 645.40L1944.09 645.86L1943.32 646.22L1942.54 646.49L1941.74 646.65L1940.95 646.70L1940.18 646.65L1939.43 646.49L1938.73 646.22L1938.09 645.86L1937.51 645.40L1937.00 644.85L1936.58 644.24L1936.26 643.55L1936.03 642.81L1935.90 642.03L1935.88 641.22L1935.96 640.40L1936.18 639.00M1938.15 626.70L1934.95 646.70M1951.78 639.00L1951.96 638.18L1952.25 637.37L1952.62 636.59L1953.09 635.85L1953.64 635.16L1954.25 634.55L1954.93 634.00L1955.65 633.54L1956.42 633.18L1957.20 632.91L1958.00 632.75L1958.79 632.70L1959.56 632.75L1960.31 632.91L1961.01 633.18L1961.65 633.54L1962.23 634.00L1962.74 634.55L1963.16 635.16L1963.48 635.85L1963.71 636.59L1963.84 637.37L1963.86 638.18L1963.78 639.00L1963.56 640.40L1963.38 641.22L1963.09 642.03L1962.72 642.81L1962.25 643.55L1961.70 644.24L1961.09 644.85L1960.41 645.40L1959.69 645.86L1958.92 646.22L1958.14 646.49L1957.34 646.65L1956.55 646.70L1955.78 646.65L1955.03 646.49L1954.33 646.22L1953.69 645.86L1953.11 645.40L1952.60 644.85L1952.18 644.24L1951.86 643.55L1951.63 642.81L1951.50 642.03L1951.48 641.22L1951.56 640.40L1951.78 639.00M1967.38 639.00L1967.56 638.18L1967.85 637.37L1968.22 636.59L1968.69 635.85L1969.24 635.16L1969.85 634.55L1970.53 634.00L1971.25 633.54L1972.02 633.18L1972.80 632.91L1973.60 632.75L1974.39 632.70L1975.16 632.75L1975.91 632.91L1976.61 633.18L1977.25 633.54L1977.83 634.00L1978.34 634.55L1978.76 635.16L1979.08 635.85L1979.31 636.59L1979.44 637.37L1979.46 638.18L1979.38 639.00L1979.16 640.40L1978.98 641.22L1978.69 642.03L1978.32 642.81L1977.85 643.55L1977.30 644.24L1976.69 644.85L1976.01 645.40L1975.29 645.86L1974.52 646.22L1973.74 646.49L1972.94 646.65L1972.15 646.70L1971.38 646.65L1970.63 646.49L1969.93 646.22L1969.29 645.86L1968.71 645.40L1968.20 644.85L1967.78 644.24L1967.46 643.55L1967.23 642.81L1967.10 642.03L1967.08 641.22L1967.16 640.40L1967.38 639.00M1981.35 626.70L1978.15 646.70M1984.59 632.70L1988.00 644.50M1996.59 632.70L1984.44 649.90L1984.44 649.90L1983.90 650.73L1983.36 651.43L1982.80 651.99L1982.20 652.40L1981.53 652.68L1980.77 652.80M2015.15 646.70L2018.35 626.70L2026.55 626.70L2026.55 626.70L2027.20 626.74L2027.82 626.87L2028.40 627.08L2028.94 627.37L2029.43 627.73L2029.85 628.16L2030.20 628.66L2030.48 629.20L2030.68 629.79L2030.79 630.41L2030.81 631.05L2030.75 631.70L2030.60 632.35L2030.37 632.99L2030.06 633.61L2029.68 634.20L2029.23 634.74L2028.72 635.24L2028.16 635.67L2027.56 636.03L2026.92 636.32L2026.27 636.53L2025.61 636.66L2024.95 636.70L2016.75 636.70M2031.95 646.70L2035.15 626.70L2046.55 646.70L2049.75 626.70M2064.92 630.10L2064.62 629.37L2064.23 628.72L2063.75 628.14L2063.19 627.65L2062.56 627.25L2061.87 626.96L2061.14 626.78L2060.37 626.70L2059.59 626.74L2058.79 626.89L2058.01 627.15L2057.24 627.51L2056.51 627.98L2055.83 628.53L2055.21 629.16L2054.66 629.86L2054.18 630.62L2053.80 631.42L2053.51 632.25L2053.33 633.10L2052.17 640.30L2052.17 640.30L2052.09 641.14L2052.11 641.96L2052.22 642.75L2052.44 643.50L2052.75 644.20L2053.15 644.83L2053.63 645.38L2054.19 645.84L2054.81 646.21L2055.48 646.48L2056.20 646.65L2056.95 646.70L2057.72 646.65L2058.49 646.48L2059.25 646.21L2059.99 645.84L2060.69 645.38L2061.35 644.83L2061.95 644.20L2062.48 643.50L2062.94 642.75L2063.31 641.96L2063.59 641.14L2063.77 640.30L2063.86 639.46L2063.84 638.64L2063.72 637.85L2063.51 637.10L2063.20 636.40L2062.80 635.77L2062.32 635.22L2061.76 634.76L2061.14 634.39L2060.46 634.12L2059.75 633.95L2059.00 633.90L2058.23 633.95L2057.46 634.12L2056.70 634.39L2055.96 634.76L2055.26 635.22L2054.60 635.77L2054.00 636.40L2053.46 637.10L2053.01 637.85L2052.64 638.64L2052.36 639.46L2052.17 640.30M2072.59 629.99L2073.00 629.39L2073.50 628.82L2074.09 628.31L2074.73 627.85L2075.44 627.47L2076.19 627.15L2076.96 626.92L2077.76 626.77L2078.56 626.70L2079.35 626.73L2080.11 626.83L2080.84 627.03L2081.51 627.31L2082.13 627.66L2082.67 628.08L2083.13 628.57L2083.50 629.11L2083.77 629.70L2083.94 630.32L2084.00 630.96L2083.96 631.62L2083.82 632.28L2083.57 632.93L2083.22 633.56L2082.78 634.15L2082.26 634.71L2081.66 635.21L2081.00 635.65L2080.29 636.02L2079.53 636.31L2078.75 636.53L2077.95 636.66L2077.15 636.70L2074.75 636.70M2077.15 636.70L2078.00 636.74L2078.82 636.88L2079.59 637.10L2080.31 637.40L2080.96 637.78L2081.52 638.23L2081.99 638.75L2082.36 639.31L2082.62 639.92L2082.76 640.56L2082.80 641.23L2082.71 641.90L2082.52 642.56L2082.21 643.21L2081.79 643.84L2081.28 644.42L2080.68 644.96L2080.00 645.44L2079.26 645.85L2078.46 646.18L2077.63 646.44L2076.77 646.61L2075.91 646.69L2075.05 646.68L2074.22 646.59L2073.42 646.40L2072.68 646.13L2072.00 645.78L2071.40 645.36L2070.90 644.87L2070.48 644.33L2070.18 643.73" stroke-width="2.9"/>
<path d="M665.64 536.00L681.46 536.00M673.55 536.00L670.11 557.50M698.92 536.00L686.64 536.00L683.20 557.50M684.92 546.75L696.54 546.75M704.10 557.50L707.54 536.00L713.07 553.20L724.31 536.00L720.87 557.50M745.97 542.66L753.27 536.00L749.84 557.50M771.00 539.65L770.68 538.87L770.26 538.17L769.74 537.55L769.14 537.02L768.47 536.59L767.73 536.28L766.94 536.08L766.12 536.00L765.27 536.04L764.42 536.20L763.57 536.48L762.75 536.87L761.96 537.37L761.23 537.96L760.56 538.64L759.97 539.40L759.46 540.21L759.05 541.08L758.74 541.97L758.54 542.88L757.30 550.62L757.30 550.62L757.21 551.52L757.23 552.40L757.35 553.25L757.59 554.06L757.92 554.81L758.35 555.48L758.87 556.08L759.46 556.58L760.13 556.98L760.86 557.27L761.63 557.44L762.44 557.50L763.26 557.44L764.09 557.27L764.90 556.98L765.70 556.58L766.46 556.08L767.17 555.48L767.81 554.81L768.39 554.06L768.87 553.25L769.27 552.40L769.57 551.52L769.77 550.62L769.86 549.72L769.84 548.84L769.72 547.99L769.49 547.18L769.15 546.43L768.72 545.76L768.20 545.16L767.61 544.66L766.94 544.26L766.21 543.97L765.44 543.80L764.64 543.74L763.81 543.80L762.99 543.97L762.17 544.26L761.37 544.66L760.61 545.16L759.91 545.76L759.26 546.43L758.69 547.18L758.20 547.99L757.80 548.84L757.50 549.72L757.30 550.62M776.81 542.45L777.00 541.61L777.29 540.78L777.69 539.98L778.19 539.23L778.77 538.52L779.43 537.89L780.15 537.33L780.93 536.86L781.74 536.49L782.59 536.22L783.44 536.06L784.29 536.00L785.12 536.06L785.92 536.22L786.68 536.49L787.38 536.86L788.00 537.33L788.55 537.89L789.00 538.52L789.36 539.23L789.61 539.98L789.76 540.78L789.79 541.61L789.71 542.45L788.33 551.05L788.14 551.89L787.85 552.72L787.45 553.52L786.95 554.27L786.37 554.98L785.71 555.61L784.99 556.17L784.21 556.64L783.40 557.01L782.55 557.28L781.70 557.44L780.85 557.50L780.02 557.44L779.22 557.28L778.46 557.01L777.76 556.64L777.14 556.17L776.59 555.61L776.14 554.98L775.78 554.27L775.53 553.52L775.38 552.72L775.35 551.89L775.43 551.05L776.81 542.45M795.71 542.45L795.90 541.61L796.19 540.78L796.59 539.98L797.09 539.23L797.67 538.52L798.33 537.89L799.05 537.33L799.83 536.86L800.64 536.49L801.49 536.22L802.34 536.06L803.19 536.00L804.02 536.06L804.82 536.22L805.58 536.49L806.28 536.86L806.90 537.33L807.45 537.89L807.90 538.52L808.26 539.23L808.51 539.98L808.66 540.78L808.69 541.61L808.61 542.45L807.23 551.05L807.04 551.89L806.75 552.72L806.35 553.52L805.85 554.27L805.27 554.98L804.61 555.61L803.89 556.17L803.11 556.64L802.30 557.01L801.45 557.28L800.60 557.44L799.75 557.50L798.92 557.44L798.12 557.28L797.36 557.01L796.66 556.64L796.04 556.17L795.49 555.61L795.04 554.98L794.68 554.27L794.43 553.52L794.28 552.72L794.25 551.89L794.33 551.05L795.71 542.45" stroke-width="4.6"/>
<path d="M1406.00 482.60L1425.29 475.50L1428.27 480.81L1428.27 480.81L1428.68 481.66L1428.96 482.55L1429.11 483.44L1429.13 484.34L1429.01 485.22L1428.77 486.06L1428.39 486.87L1427.90 487.61L1427.29 488.28L1426.58 488.86L1425.78 489.35L1424.90 489.74L1419.50 491.73L1418.56 492.01L1417.58 492.17L1416.57 492.22L1415.55 492.15L1414.53 491.97L1413.54 491.67L1412.59 491.26L1411.70 490.75L1410.88 490.16L1410.14 489.47L1409.51 488.72L1408.98 487.91L1406.00 482.60M1440.99 503.47L1434.88 492.59L1415.59 499.69L1421.70 510.58M1425.43 496.07L1430.49 505.08M1444.67 510.03L1428.76 523.15L1451.43 522.07M1453.92 526.51L1434.63 533.62L1441.01 544.99M1455.30 543.90L1456.23 543.62L1457.22 543.46L1458.23 543.42L1459.26 543.50L1460.28 543.70L1461.29 544.01L1462.25 544.44L1463.15 544.96L1463.99 545.59L1464.73 546.29L1465.38 547.07L1465.92 547.90L1466.35 548.78L1466.64 549.69L1466.81 550.61L1466.84 551.53L1466.73 552.43L1466.50 553.29L1466.13 554.11L1465.64 554.87L1465.04 555.55L1464.34 556.14L1463.54 556.63L1462.66 557.02L1457.26 559.01L1456.32 559.29L1455.34 559.45L1454.32 559.49L1453.29 559.41L1452.27 559.21L1451.27 558.90L1450.31 558.47L1449.40 557.95L1448.57 557.32L1447.82 556.62L1447.17 555.84L1446.63 555.01L1446.21 554.13L1445.92 553.22L1445.75 552.30L1445.72 551.38L1445.82 550.48L1446.06 549.62L1446.43 548.80L1446.91 548.04L1447.52 547.36L1448.22 546.77L1449.02 546.27L1449.89 545.88L1455.30 543.90M1451.66 563.96L1470.95 556.86L1458.40 575.98L1477.70 568.88" stroke-width="4.6"/>
</g>
</svg>
</body></html>
